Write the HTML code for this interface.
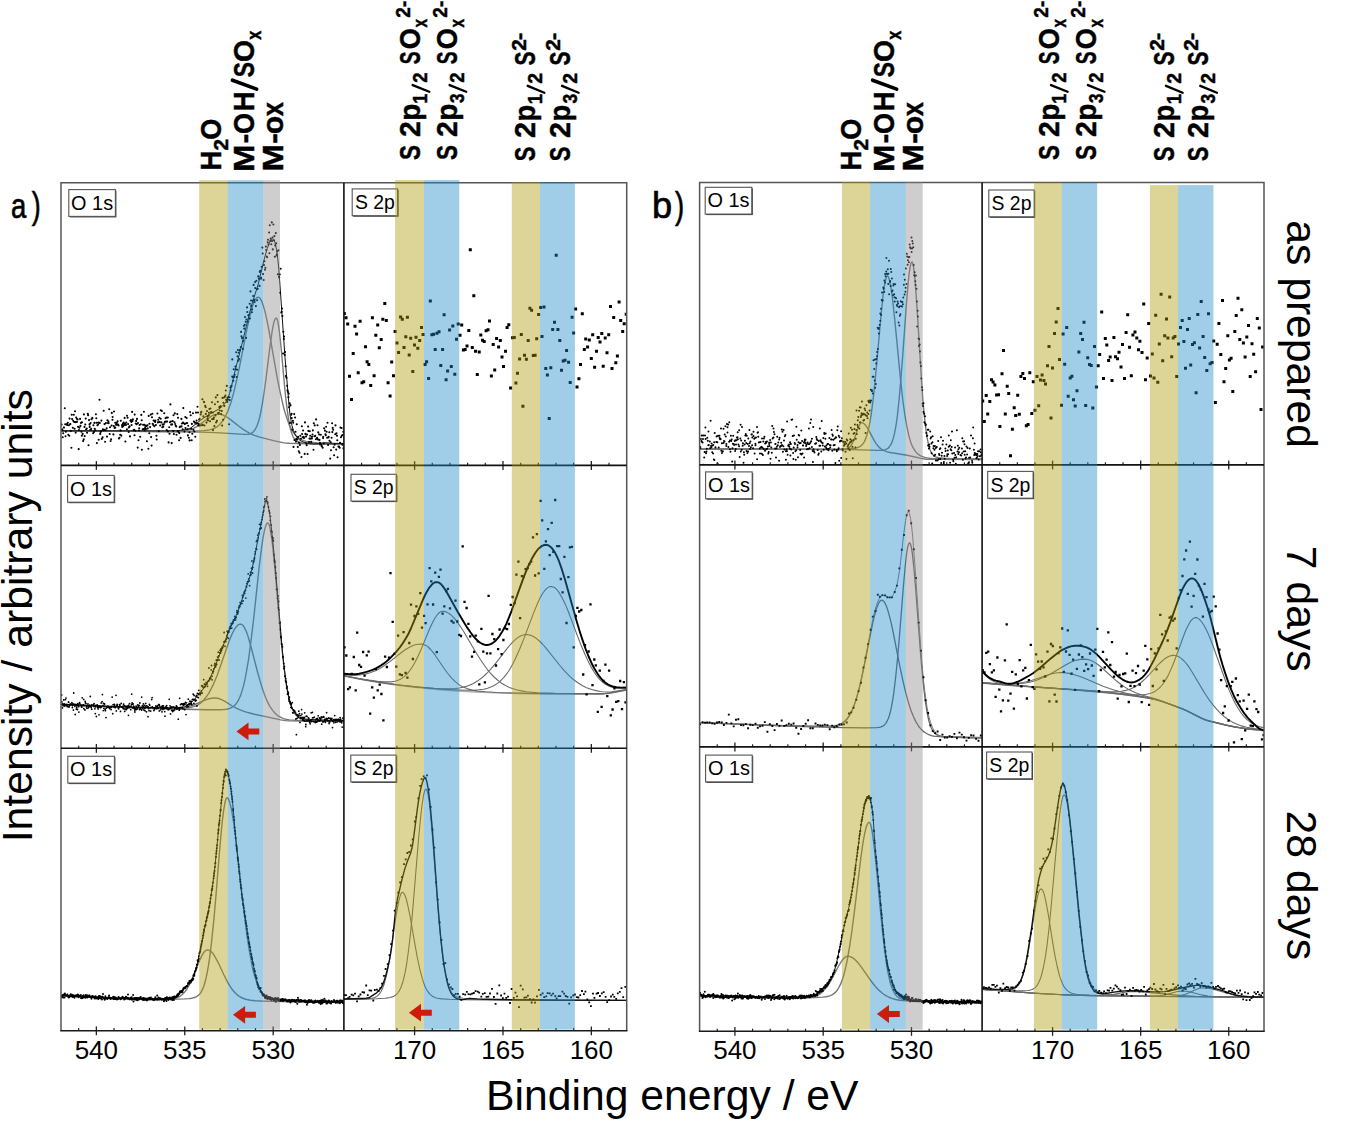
<!DOCTYPE html><html><head><meta charset="utf-8"><style>html,body{margin:0;padding:0;background:#fff;overflow:hidden}svg{display:block}</style></head><body><svg width="1350" height="1121" viewBox="0 0 1350 1121">
<style>.r{font-family:"Liberation Sans",sans-serif;fill:#000}.b{font-family:"Liberation Sans",sans-serif;font-weight:bold;fill:#000;stroke:#000;stroke-width:0.45px}</style>
<rect width="1350" height="1121" fill="#fff"/>
<clipPath id="c_aO1"><rect x="61.0" y="182.8" width="282.9" height="282.6"/></clipPath>
<g clip-path="url(#c_aO1)">
<path d="M61 431l46.2 .1 61.6 .5 8-.1 5.7-.4 3.3-.5 3-.7 2.7-.8 2.7-1.2 2.6-1.3 2.7-1.7 8.7-6.6 3.3-2.1 2-1 1.7-.7 1.8-.3 1.5-.1 2 .3 2 .5 2 .9 2.3 1.2 3.7 2.6 8.5 6.7 3.8 2.8 4 2.6 4 2.1 3.7 1.6 4.3 1.5 15.7 4 8.3 1.7 3.2 .5 3.2 .2 26.8 .7 28 .3" fill="none" stroke="#777" stroke-width="1.4" stroke-linejoin="round"/>
<path d="M61 430.9l41 0 70.5 .3 23.3-.2 8-.4 3-.3 2.4-.4 2.3-.5 2-.7 1.7-.9 1.8-1 2-1.6 2-2.1 1.8-2.3 1.7-2.8 1.7-3.4 1.6-3.4 1.4-3.9 1.6-4.4 3-10.5 3.2-13.7 3-14.4 7-35.6 1.8-8.1 1.7-7.3 2-7 1-2.8 1-2.3 1-1.9 1-1.2 1-.7 .7-.1 .8 .2 .8 .6 .7 .9 1 1.8 1.5 3.9 1.8 6 1.7 7.5 2 9.9 8.7 49.5 2.3 11.6 2.3 10.5 2.4 10.1 2.6 8.3 2.4 6.6 1.3 2.7 1.5 2.8 1.2 2 1.6 2 1.4 1.7 1.8 1.6 1.8 1.3 2 1.1 2 .8 2.2 .7 5 .9 7 .6 11.2 .5 14.8 .3" fill="none" stroke="#777" stroke-width="1.4" stroke-linejoin="round"/>
<path d="M61 431l66.5 .2 74 .9 14 .5 29.5 1.8 3.5-.2 1.5-.4 1.2-.5 1.6-1 1.2-1.3 1.2-1.7 1-1.8 1.3-3 1-3 1-3.5 1-4.3 1.7-9 2-12.9 1.8-13.2 4-32.5 2-14 1.2-6.8 1-4 1-2.4 .6-.6 .4-.1 .6 .3 .2 .5 .8 2.4 .7 3.9 1 7.3 1.5 14.1 4.2 46 1.3 11.6 1.3 9.8 1.2 7.9 1.2 6.2 1.6 5.3 1.4 3.6 1.6 2.3 .7 .8 1 .8 1 .5 1.3 .5 3 .7 6 .5 9.7 .5 12.3 .3 14.2 .1" fill="none" stroke="#777" stroke-width="1.4" stroke-linejoin="round"/>
<path d="M61 430.8l103.8 .1 11.4-.2 4-.3 3.3-.4 3.5-.7 3-.8 10.5-8.2 3.5-2.5 5.2-3.4 9-5 1.8-1.2 2-1.7 2.5-2.6 2.3-3.3 1.2-2.5 1.5-4.4 2-7.6 4-17.1 6.3-24.2 7-29 3.4-12.6 5.8-18.2 6.5-27 2.7-9.3 2-5.4 1-2.1 .8-1.2 .8-.7 .7-.3 .7 .3 .8 1 .8 1.7 .4 1.6 1.3 5.9 1.3 9.4 1 10.5 1.2 15.9 5 72 4 47.7 1 9.5 .8 5 1.2 6.1 1.5 5.2 1 2.5 1 1.9 1.3 1.9 1.7 1.9 1.5 1.3 1.8 1 2 .9 2.4 .8 3.6 .7 4 .3 4.2-.2 5.8-1 9.7 .5 10.5 .2" fill="none" stroke="#111" stroke-width="1.0" stroke-linejoin="round"/>
<path d="M61.6 424.5h0m.5 4.7h0m.4 1h0m.2 7.1h0m.5-4h0m.7-5.7h0m.1-.1h0m.8-19.3h0m.4 16h0m.3 12h0m.4-4.5h0m.5-7.3h0m.4-.1h0m.5 .7h0m.5-2.3h0m.5 12.1h0m.6-9.6h0m.4 10.5h0m.3-17.1h0m.6 5.5h0m.2-.1h0m.4 6.9h0m.6 16.8h0m.3-32.9h0m.4 4.2h0m.7 8.7h0m.4-6.9h0m.6-6.1h0m.4 7.3h0m.4 6.8h0m.4-17.5h0m.3 10.8h0m.4 10.5h0m.5-15.1h0m.7 4.4h0m.2-2.9h0m.5 .4h0m.4 7.4h0m.7 22.3h0m.2-19h0m.5-2.4h0m.7-8.8h0m.3 7h0m.6-3h0m.4 8.9h0m.4 3.9h0m.2-13.4h0m.7 11.6h0m.4 7.2h0m.6-1.7h0m.2-25h0m.6 12.5h0m.2 9.2h0m.6-11.6h0m.4-5.9h0m.4 10.7h0m.7-.7h0m.3 4.2h0m.7-18.9h0m.3 1.4h0m.4 29.9h0m.5-25.1h0m.5 4.3h0m.2 2.5h0m.6 2.8h0m.3-6.6h0m.6 5.8h0m.3-9.7h0m.8-1.4h0m.1 .4h0m.7 15.1h0m.3-8.1h0m.6 6.9h0m.4-9.2h0m.3 5.8h0m.7 1.6h0m.5-16.1h0m.4 4h0m.3 4.6h0m.3 20.3h0m.5-17.9h0m.7-.6h0m.3-2.1h0m.3 17.3h0m.8-40h0m.3 23.1h0m.4 11h0m.4-1.9h0m.5-.6h0m.3-10.8h0m.4 18.3h0m.8-1.5h0m.3-8h0m.5 .8h0m.3-19.5h0m.7 19.2h0m.1-5.8h0m.6 17.6h0m.3-11.5h0m.5-7.1h0m.8 5.3h0m.3 8.2h0m.4-16.3h0m.5 2.8h0m.5-1.9h0m.3 1.9h0m.5-13.8h0m.5 24.7h0m.3-6.8h0m.6 13.8h0m.5-1.7h0m.5-13.7h0m.2-12.7h0m.7 6.8h0m.1-2.7h0m.8 17.4h0m.4-8.4h0m.2-14.5h0m.6 16.4h0m.6-5.1h0m.1 4.8h0m.7-2.9h0m.5-1.4h0m.4 1.5h0m.5-3.1h0m.2-.5h0m.5 3.4h0m.5 .9h0m.4 12.9h0m.5-.6h0m.7-3h0m.3-4.4h0m.3-9.6h0m.5 14.8h0m.7-10.5h0m.2 1.8h0m.7-3.4h0m.3 2.7h0m.4-3.7h0m.6 2.4h0m.4-7h0m.4 5.9h0m.4 17.7h0m.6-16.5h0m.3-2.5h0m.6 6.8h0m.1-13.6h0m.6 2h0m.5 6.4h0m.6 7.9h0m.2-4.6h0m.7-1h0m.4 10h0m.4-15.6h0m.5-.8h0m.5 1.9h0m.2 3.1h0m.5-13.1h0m.4 9h0m.4-1.6h0m.5 10.9h0m.7-.4h0m.4 5.5h0m.2-20.7h0m.6 16.2h0m.4-7.3h0m.5-2.6h0m.5 3.4h0m.3-5.4h0m.7 28.7h0m.3-24.6h0m.5 17.2h0m.5-9.7h0m.2-2.3h0m.4-3.2h0m.6 11.7h0m.6-12.5h0m.5-9.3h0m.4 5.4h0m.2 29.4h0m.8-20.5h0m.4-4.5h0m.5 4.3h0m.3-17.2h0m.6 18.7h0m.1-5.7h0m.4 3.3h0m.5-1.7h0m.5 2.6h0m.4-3.1h0m.5 15.3h0m.6-15.8h0m.2 3h0m.7 20.3h0m.3-32.8h0m.6 17.4h0m.2-9.5h0m.6 3.3h0m.7-12.5h0m.3 22.5h0m.5 8.5h0m.4-28.4h0m.4-3.5h0m.3 10h0m.6 1.3h0m.3-4.4h0m.7 5.7h0m.5-5.1h0m.4 .8h0m.2-1.4h0m.5 4.4h0m.5 10.8h0m.3 3.7h0m.7-26h0m.5 8.9h0m.3-2.6h0m.6 11.4h0m.5-13.5h0m.2 4.2h0m.7 3.6h0m.5-6.7h0m.1-8.5h0m.6 12.1h0m.5-11.4h0m.4 16.2h0m.3-2.6h0m.7 2.1h0m.4-2.3h0m.5-11.1h0m.5 9.2h0m.2-.6h0m.6-3.7h0m.5 3.3h0m.5-4h0m.2 12.6h0m.4-8.5h0m.7-4.1h0m.2 14h0m.6 10.9h0m.6-15.2h0m.3 6.6h0m.4-11.5h0m.5-17.9h0m.5 17.1h0m.2 3.1h0m.6 18.5h0m.4-18.7h0m.6-3.3h0m.5 10h0m.3-15.9h0m.4 18.9h0m.6-11.9h0m.3-8.8h0m.4 10.6h0m.5 1.7h0m.5 .7h0m.3 8.4h0m.8-20.7h0m.3 17.1h0m.4-13.4h0m.3 13.8h0m.8 8.6h0m.2-7.1h0m.4-5.9h0m.5-.7h0m.4 11.4h0m.8-19h0m.2 7.5h0m.4-2.9h0m.7 5.8h0m.3-6.8h0m.3-14.4h0m.6 15.1h0m.6 8.4h0m.3-7.5h0m.5-7.1h0m.2 11.1h0m.7-4.9h0m.5-5.2h0m.5 5h0m.4 6.3h0m.3 6.1h0m.3-9.6h0m.7 12h0m.5-5.6h0m.2 8.2h0m.5-28.3h0m.6 3.1h0m.5 13.5h0m.5 11.6h0m.2-16.4h0m.4 9.8h0m.7-20.4h0m.4 16.4h0m.5-8.1h0m.5 9.9h0m.5-8.8h0m.4 14.1h0m.4-14h0m.3-10.2h0m.6 8h0m.2 3h0m.7-16.8h0m.5 5.7h0m.4 13h0m.3-1.6h0m.5-4.2h0m.4-.8h0m.3 6.6h0m.8-11h0m.3-1.9h0m.4-.8h0m.5 13.5h0m.5-26.1h0m.4 25.6h0m.6-8.4h0m.5-14.7h0m.2 .6h0m.4 23.2h0m.7-19.6h0m.5 1.3h0m.1 6.7h0m.7 8.7h0m.5-11.6h0m.5 5.6h0m.1 2.1h0m.4 1.7h0m.8-4.9h0m.1-2.8h0m.5-3.7h0m.6 12.3h0m.4-12.8h0m.6 3.6h0m.2 .2h0m.8-10h0m.1 16.8h0m.7-6.6h0m.2 17.6h0m.6-11.1h0m.3-1.4h0m.5 8.5h0m.5-21.9h0m.6 11.2h0m.3-18h0m.3 25h0m.8-1.5h0m.5-25.8h0m.4 6.6h0m.2 11.3h0m.5 .6h0m.4-.6h0m.4-5.9h0m.4 3.4h0m.7-3.6h0m.2-.8h0m.5 8h0m.7-3.1h0m.3 14.6h0m.4-27.7h0m.6 21.8h0m.3-17h0m.6-5.2h0m.3 8.4h0m.6-9.2h0m.5-1.1h0m.4-5.1h0m.4 9.4h0m.6-14h0m.4 16h0m.2-4.1h0m.5 1.8h0m.4-2.6h0m.8 27.3h0m.4-27.1h0m.2 2.9h0m.7-12.5h0m.2 2.9h0m.6-4.4h0m.4-.1h0m.6-9.4h0m.1-17.2h0m.6 17.8h0m.5 3.6h0m.3-11.6h0m.5 7.7h0m.5-2.1h0m.7-8.2h0m.4 2.6h0m.4-16.9h0m.5 24.7h0m.4-7.3h0m.5-13.3h0m.4-6.4h0m.4 10.8h0m.3-8.1h0m.4 6.3h0m.7-8.5h0m.2-.6h0m.8-2.8h0m.3-15.2h0m.3 4.4h0m.7 1.9h0m.2-.5h0m.6 11.2h0m.2-7.9h0m.8-15.2h0m.3 2.8h0m.6-3.8h0m.2-7.8h0m.7 4.7h0m.4 16.2h0m.4-18.4h0m.6-12.1h0m.2 4.6h0m.5 9.8h0m.5-6.5h0m.5-.2h0m.3 3.4h0m.6-14.8h0m.2 14.8h0m.6-27.1h0m.6 9.1h0m.1 5.4h0m.7 6.3h0m.2-2.7h0m.8-8.8h0m.3-4.7h0m.4-11.1h0m.6 14.8h0m.4 2.3h0m.5-20h0m.2 6.1h0m.6 18h0m.5-25.4h0m.6 8.6h0m.1 11h0m.6-11.6h0m.5-12.3h0m.4 .1h0m.3 2.2h0m.6 7.2h0m.3-14h0m.5-1h0m.7 7.9h0m.2-.9h0m.5-11.1h0m.6-19.2h0m.4 5.9h0m.4 20.6h0m.6 5.9h0m.3-14.9h0m.5-3.9h0m.5 8.6h0m.4-2h0m.5-21.2h0m.3 3.4h0m.5 6.5h0m.4 .8h0m.6-15.1h0m.3-2.4h0m.5 4.6h0m.6-11.9h0m.3 20.7h0m.4-28h0m.6 15.7h0m.3-2.3h0m.6 5.7h0m.5-21.9h0m.3 18.6h0m.5-3.5h0m.2 11.9h0m.6-24.9h0m.6 15.8h0m.4-4.2h0m.4 20.7h0m.5-11.4h0m.5-12.3h0m.4 10.2h0m.4 12.1h0m.3-.8h0m.5-3.3h0m.5 23h0m.5-24h0m.6 26.5h0m.2 .6h0m.5-3h0m.4 18.4h0m.6-24h0m.6 43.7h0m.4-.8h0m.3-3.2h0m.4 7.5h0m.7 37.5h0m.2-21.7h0m.6 7.2h0m.2-2.5h0m.7 18.4h0m.3-2.9h0m.5 14.3h0m.3 9.8h0m.6 1.6h0m.6 8.1h0m.4 4.4h0m.3 1.6h0m.6 5.4h0m.3-3.7h0m.4 13.8h0m.6-3.9h0m.3 19.5h0m.5-17.5h0m.6 9.4h0m.5-1h0m.1 4.3h0m.7 11.6h0m.5-8.8h0m.3 1.9h0m.3 24.1h0m.7-32.8h0m.3 25.9h0m.6-22.5h0m.4 14.3h0m.5 9.8h0m.3-2.7h0m.5-14.6h0m.5 15.1h0m.5 7.5h0m.3-10h0m.7 14.3h0m.2-8.5h0m.5 10.1h0m.4-7.9h0m.4-9.1h0m.6 3h0m.6 18.2h0m.4-30.7h0m.2 7.7h0m.5 3.3h0m.5-6.8h0m.6 6.4h0m.3 1.2h0m.7 15.8h0m.3-31.5h0m.4 11.5h0m.6 2.7h0m.4 7h0m.3 1.6h0m.4-10.6h0m.5 19.4h0m.5-27.4h0m.3 4.3h0m.6 11.1h0m.5-3.4h0m.3-7.4h0m.4 4.5h0m.5 2.9h0m.5 3.3h0m.7-3.4h0m.1-1.8h0m.5-2.2h0m.4-4.1h0m.6 19.4h0m.3-26.6h0m.6 13h0m.3-10.8h0m.5 10.5h0m.7 3.3h0m.2-19.8h0m.6 19h0m.4-.5h0m.4-12.6h0m.6 14.3h0m.2-7.2h0m.8 2.1h0m.4 5.4h0m.4 2.8h0m.2 1.8h0m.7-9.8h0m.4 9.9h0m.5 1.7h0m.2-.3h0m.8 1.7h0m.4-9.6h0m.1-1.4h0m.6 6.9h0m.3-15.3h0m.8 2.3h0m.5 3.6h0m.4 1.1h0m.3-8.5h0m.5 4.9h0m.5 6.1h0m.4-15.1h0m.6 22.2h0m.3-7.5h0m.3-.7h0m.6-4.5h0m.2 8.6h0m.7 17.8h0m.5-16.3h0m.3 8h0m.6-12.5h0m.5-14.5h0m.2 8.8h0m.4-4.2h0m.5 1.8h0m.4 17.6h0m.5 8h0m.5-10.6h0m.7-10.5h0m.2-8.8h0m.7 24.2h0m.3-16.2h0m.5 2.4h0m.3 4.4h0m.3 17h0m.8-10.7h0m.2 .2h0m.4-.2h0m.7 1.3h0m.4-4.9h0m.3-15.4h0m.5 9.8h0m.7-9.3h0m.2 7.6h0m.6 9.1h0m.2-9.7h0m.7-3.2h0m.2 16.6h0" fill="none" stroke="#000" stroke-width="2.1" stroke-linecap="round"/>
</g>
<clipPath id="c_aS1"><rect x="343.9" y="182.8" width="282.8" height="282.6"/></clipPath>
<g clip-path="url(#c_aS1)">
<path d="M344.3 313.5h0m1.7 4.2h0m1.7 6.3h0m1.8 52.2h0m2 23.4h0m1.7-46h0m1.8-27.3h0m1.6 7.6h0m1.6 38.8h0m1.9-51.4h0m1.9 61.5h0m1.7-1h0m1.8-35h0m1.6 15h0m1.7 2.7h0m1.9 20.9h0m1.7-67.7h0m1.7 58h0m1.7-40.5h0m1.9-10.2h0m1.6 22.7h0m1.9-8.3h0m1.6-20.1h0m2-15.8h0m1.5 17h0m1.8 62.3h0m2 13.2h0m1.6-34.1h0m1.8 13.9h0m1.6-44.2h0m1.9 11.4h0m1.6 9.4h0m2-35.5h0m1.7 2.4h0m1.7 28.2h0m1.8-10.8h0m1.6-19.4h0m1.8 37.7h0m1.5-16.8h0m2.1 33.4h0m1.7-26.7h0m1.5-7.7h0m1.8 11.1h0m1.9-7.8h0m1.8-12.9h0m1.5 6.9h0m2.1 30h0m1.5-2.7h0m2 16.6h0m1.7-77.4h0m1.6 33.8h0m1.7-.6h0m1.6 15.3h0m1.8-16.3h0m2-1.5h0m1.8 33.7h0m1.8-15.8h0m1.5-34.9h0m2 65h0m1.5-8.8h0m2-40.8h0m1.7 36.5h0m1.5-40.7h0m2 48.4h0m1.7-35h0m1.7-15.2h0m1.8 11.2h0m1.7-10.2h0m1.7 24.9h0m1.7-.4h0m1.9-3.7h0m1.8-15.4h0m1.5-80.7h0m2 97.6h0m1.5-51.7h0m1.7 55.6h0m1.8 23.1h0m1.9-22.3h0m1.6-17.2h0m1.7 5.4h0m1.7 1.2h0m1.9-10.8h0m1.9-.9h0m1.5-8.8h0m1.9 54.9h0m1.8-31.3h0m1.5 25.3h0m1.9-31.4h0m2 8.4h0m1.7-6.3h0m1.7 16.4h0m1.5 9.5h0m2-15.3h0m1.6-23.7h0m1.7-2.8h0m1.8 63.4h0m2-50.4h0m1.7-.3h0m1.6 45.7h0m1.6-9.8h0m2.1-14.4h0m1.7-24.3h0m1.6 71.6h0m1.6-51h0m1.9 4h0m1.8-18.6h0m1.7-32.4h0m1.7 2.1h0m1.7 45.3h0m1.8-.4h0m1.6-16.4h0m1.9-24.3h0m2-7h0m1.4 29h0m2-29.4h0m1.8 61.3h0m1.6 6.6h0m1.8 43.6h0m1.6-50.8h0m1.9-38.2h0m1.8-7.3h0m1.7-67h0m1.7 74.2h0m1.9 10.9h0m1.7 29.8h0m1.7-9.3h0m1.8-.6h0m1.6-9.7h0m2 11.6h0m1.6 20.4h0m1.9-65.3h0m1.5 15.8h0m2-24.2h0m1.4 78.2h0m1.9-8.4h0m1.6-14.1h0m1.8-50.8h0m2 35.7h0m1.4-10.6h0m1.9 8.2h0m1.7-7h0m2 18.4h0m1.4-23.8h0m1.9 32.5h0m1.9-15.9h0m1.7-13.9h0m1.8 4.7h0m1.8-8.6h0m1.4 32.7h0m2-28.3h0m1.8 14.8h0m1.7-17.9h0m1.8-28.4h0m1.5 62.2h0m1.7-51.1h0m2.1 45.2h0m1.6-6.8h0m1.7-54h0m1.6 18.5h0m2 11.2h0m1.5-7.9h0m2-9.4h0" fill="none" stroke="#000" stroke-width="3.0" stroke-linecap="square"/>
</g>
<clipPath id="c_aO2"><rect x="61.0" y="465.4" width="282.9" height="282.9"/></clipPath>
<g clip-path="url(#c_aO2)">
<path d="M61 704.6l91.8 3.9 13.4 .4 8.3-.1 3.5-.3 3.2-.3 3-.5 3-.7 3-.9 3.3-1.1 10.3-4.4 4-1.5 2.2-.6 2-.3 2-.2 1.8 0 1.4 .2 1.6 .3 3.2 1.3 3 1.6 7.2 4.6 3.6 1.9 3.7 1.8 4.5 1.7 4.8 1.4 5.4 1.4 11.6 2.4 15 3.3 4.7 .7 4.3 .3 26 .4 28.2 .1" fill="none" stroke="#777" stroke-width="1.4" stroke-linejoin="round"/>
<path d="M61 704.5l71 2.9 25.5 .9 15.7 .3 8 0 5.8-.5 4.8-.9 2-.6 2-.8 2-1 2-1.2 2-1.6 1.7-1.7 1.7-2 1.8-2.4 1.8-2.6 1.4-2.6 3.3-6.6 3.5-8.4 3.2-8.9 7.8-22.5 2.2-6 2-4.6 2.3-4.4 1.3-1.9 1-1.2 1-1 1-.6 1-.4 1-.1 .7 .2 .7 .5 .8 .7 1 1.4 1.8 3.4 2 5.3 1.4 4.9 1.8 6.2 6 23.3 2.8 10.1 2.7 9 2.5 6.9 2.5 5.9 2.5 4.7 2.8 4 2.7 3.1 1.5 1.3 1.5 1.1 3.3 1.8 1.7 .7 2 .6 4 .7 7.3 .5 12 .3 16.2 .3 19 .2" fill="none" stroke="#777" stroke-width="1.4" stroke-linejoin="round"/>
<path d="M61 704.5l52 2.2 44.2 1.7 26.8 .9 24 .5 11.8-.1 3.7-.2 2.7-.3 2.6-.5 2-.7 1.7-1 1.7-1.3 1.8-1.8 1.8-2.5 1.4-2.9 1.6-3.6 1.4-4.5 1.3-4.5 1.5-6.5 1.2-6.3 2.6-15.3 2.4-18.7 2.6-21.5 5.4-51 2.8-22.1 1.5-9.4 1.5-7 .8-2.4 .7-1.7 .7-.9 .6-.1 .4 .2 .3 .3 .5 1 .5 1.5 .7 3.2 1.3 7.6 1.3 10.1 2.2 22.8 6.2 71.9 1.8 17.2 1.8 14.7 1.4 10.6 1.8 9.9 1.8 7.5 1 3.5 1 2.8 1 2.4 1 1.9 1.2 1.9 1.2 1.4 1.3 1.1 1.5 1 1.5 .7 2 .6 2.3 .5 2.7 .3 8 .6 12.5 .5 16 .3" fill="none" stroke="#777" stroke-width="1.4" stroke-linejoin="round"/>
<path d="M61 704.4l44.5 1.8 34.7 1.2 22.3 .5 6.5-.1 5-.3 2.5 .3 2.3 .1 2-.2 2-.4 1.7-.5 1.5-.6 1.8-1 1.7-1.2 1.7-1.5 2-1.8 4.6-5 6.2-7.8 3-4.4 2.8-5 2.4-5.4 2.8-6.6 12.8-32.7 3.2-7.4 5.8-12.3 2.4-6.3 9.3-26.9 1.7-5.6 1.6-5.6 2.2-9.9 5.8-30 2.7-12.6 2-11.6 .7-3.1 .6-1 .2-.1 .5 .2 .7 1.2 .8 2.2 .5 2.2 .7 4.1 .8 5.2 1.5 12.6 2 19.3 2 21.4 6.3 74.5 1.2 12.7 1.5 13.3 1.5 11.3 1.8 10.5 1.4 7 1.8 5.9 1 2.6 1.2 2.5 1.3 2 1.3 1.6 1.7 1.8 1.7 1.4 1.8 1 1.8 .7 3 .6 3.7 .4 4 0 15.3 .8 15.2 .3" fill="none" stroke="#111" stroke-width="1.0" stroke-linejoin="round"/>
<path d="M61.6 694.9h0m.3 7h0m.5 6h0m.4-3.9h0m.3 1.8h0m.6-5.9h0m.4 4.9h0m.3-.9h0m.3 2.2h0m.4-1.4h0m.3-5.1h0m.6-1.5h0m.5 6.2h0m.1 1.4h0m.6 .8h0m.4 .1h0m.1-2h0m.8-2.4h0m.2 0h0m.3 4.9h0m.3-1.1h0m.7-1.1h0m.2-.9h0m.5 .8h0m.3 0h0m.5-.6h0m.4-1.6h0m.5 4.9h0m.4-2.2h0m.4-1.5h0m.2 6.3h0m.3-17.1h0m.8 11.3h0m.4 2h0m.3 8.2h0m.5-9.4h0m.3-.6h0m.3 4.6h0m.4-1.7h0m.3-1.7h0m.5 3.8h0m.3-5.8h0m.5 1.2h0m.4 1.8h0m.2 5.4h0m.6-9.4h0m.3 .8h0m.6 1.9h0m.4 0h0m.3-.3h0m.5 1.9h0m.3 0h0m.3-9.2h0m.5 7.5h0m.5-.4h0m.5-5.5h0m.1 9.2h0m.3-3.1h0m.8 4.4h0m.3-8.5h0m.3 1.5h0m.5 .7h0m.3 3.2h0m.6-.5h0m.1 2h0m.5-2.7h0m.5-1.7h0m.2 4h0m.6-.6h0m.2-.7h0m.6-1.4h0m.4 .6h0m.3-9.3h0m.6 10h0m.3 1h0m.4-2.7h0m.1 4.4h0m.4-4.1h0m.7 .2h0m.5 0h0m.3-.9h0m.5 2.1h0m0-2.8h0m.8 5.1h0m.4 4.8h0m.3-6.8h0m.3-1.4h0m.5 11.1h0m.2-10.8h0m.6-.7h0m.4 2.6h0m.3-1.8h0m.3 3.1h0m.3-1.7h0m.5 7.6h0m.6-8.4h0m.2-.1h0m.3 .9h0m.5 .5h0m.5-4.6h0m.4 3.8h0m.6-5.2h0m.3-7.1h0m.5 11h0m.4 5h0m.2-7.1h0m.3 4.8h0m.7-2h0m.1-2.3h0m.5 5.5h0m.3 1.2h0m.6 6.9h0m.2-9.5h0m.5-.5h0m.3-.6h0m.6 .1h0m.3-.9h0m.5 .7h0m.2 .5h0m.4-.5h0m.6 1.7h0m.4-.6h0m.4-.8h0m.5-.2h0m.2 2.6h0m.3-2.3h0m.5-1h0m.3-9.2h0m.5 16.6h0m.4-9.1h0m.4 2.1h0m.6 .3h0m.3-2.6h0m.3 1h0m.5 2.3h0m.4-.8h0m.4-11.6h0m.3 15.6h0m.6-5.5h0m.2-1h0m.2 .3h0m.5 1.9h0m.6 1.8h0m.3 .4h0m.4-1.7h0m.4-2.5h0m.3 .9h0m.3-.4h0m.4 6.3h0m.7-8h0m.2 3.6h0m.5 0h0m.6-.5h0m.3 1.1h0m.4 .9h0m.4-4.3h0m.5 1.5h0m0 3.2h0m.6 2.5h0m.6-5.3h0m.2 3h0m.6-2.8h0m.1 3.4h0m.3-1.9h0m.8-1.6h0m.2 2.2h0m.4-1.2h0m.6 8.1h0m.1-9.8h0m.7 2h0m.2-3.8h0m.3 3.2h0m.4-.6h0m.5 3.4h0m.4-3.4h0m.6-1.8h0m0-10.4h0m.4 8.7h0m.5 5h0m.5-3.8h0m.5 2.1h0m.3 2.2h0m.4-1.1h0m.5 2.8h0m.1 2h0m.5-3.5h0m.7-2.4h0m.1 3.5h0m.7-2.5h0m.2 2h0m.3-.8h0m.3-3.5h0m.5 .5h0m.4 .9h0m.5-.7h0m.4 4h0m.4-6.5h0m.4 4.9h0m.2 1h0m.5-1.7h0m.7-10.1h0m0 12.9h0m.7-4.3h0m.3 2.6h0m.5-1.6h0m.2-2.9h0m.4 6h0m.5-4.3h0m.6 2.7h0m.1 2.5h0m.3-4.6h0m.4-2.7h0m.8 8.4h0m.1-6h0m.3 .1h0m.6 1.3h0m.5 9.5h0m.3-9.9h0m.3 1.8h0m.5 2.1h0m.3-6.3h0m.3 .8h0m.8 2.5h0m.2 3.4h0m.3-3.8h0m.7-7.7h0m.4-2h0m.3 9.3h0m.2 .6h0m.4 .2h0m.5 .2h0m.4 2.6h0m.6-1h0m.4-1.8h0m.4 .4h0m.1-.4h0m.5-1.7h0m.2 .3h0m.6 2.2h0m.2-.4h0m.4-1.6h0m.4-.6h0m.5 2.3h0m.4-3.6h0m.6 .1h0m.1 6.2h0m.4-4.8h0m.7 1.5h0m.4 2.2h0m.4-1.8h0m.4-1.2h0m.4 5h0m.3-5.9h0m.5 1.8h0m.1 1.7h0m.5-3.5h0m.6 1.8h0m.2 .9h0m.5 3h0m.3 4.6h0m.5-8.4h0m.5-1.3h0m.4 1.5h0m.3-2.3h0m.3 2.9h0m.6-.6h0m.4 .6h0m.3 1.2h0m.5-.2h0m.4-10.3h0m.5 9h0m.3-2.5h0m.5 8.1h0m.2-5.8h0m.5-1.1h0m.4 .9h0m.1 2.5h0m.6 0h0m.4 1.1h0m.2-4.6h0m.7 3.8h0m.4-3.6h0m.5 2.8h0m.1-1.5h0m.5-.6h0m.6-.5h0m.2 .7h0m.5-2h0m.3 3h0m.3-2.4h0m.4 2.2h0m.4-.3h0m.5 10.7h0m.3-11.2h0m.6 2.2h0m.5-11.9h0m0 10.6h0m.4-1.5h0m.4-2.8h0m.8 3.2h0m0-3.9h0m.7 0h0m.2 3.2h0m.4-2.4h0m.4 4.1h0m.6-5.2h0m.1 1.7h0m.7-1.5h0m.3 5.9h0m.3-5.4h0m.4-1.8h0m.6 12.1h0m.4-11.8h0m.2 2.5h0m.4 1.5h0m.5-1.8h0m.6 1.7h0m.2-7.5h0m.5 5.3h0m.4-1h0m.3 1.1h0m.4-3.4h0m.5 2.7h0m.3-.5h0m.5-1.9h0m.2 1.9h0m.4 1.3h0m.6-5.3h0m.3 .2h0m.5-5.4h0m.5 5.3h0m.2 4h0m.2-8h0m.7 4.2h0m.4 .2h0m.2 1.1h0m.6-4.5h0m.3 3.8h0m.2-4.9h0m.4 10.6h0m.5-12.7h0m.5 4h0m.5 .4h0m.1-3.5h0m.4-3.8h0m.6 3.3h0m.4-.9h0m.4 1.9h0m.5-1.6h0m.5-2.3h0m.4-4.9h0m.3 7.3h0m.1-.2h0m.5-7h0m.5 1.4h0m.6-7.7h0m0 7.9h0m.6-3.5h0m.4 2.9h0m.4-2.4h0m.3 1.2h0m.4-1.3h0m.4-2.2h0m.3 1.1h0m.6 .5h0m.4 2.4h0m.5-5h0m.4-.4h0m.5-12.9h0m.1 12.6h0m.7-2.1h0m.2 .8h0m.5-1.3h0m.4 .2h0m.3-8.4h0m.4-4.3h0m.5 10.7h0m.1 3.6h0m.6-8.5h0m.2 1.8h0m.5-1.7h0m.5-2.5h0m.6-3.8h0m.4-1.6h0m.1 3.7h0m.4-.2h0m.5-1.3h0m.4-5.5h0m.4 4h0m.5-4.2h0m.4-2.9h0m.3 2.7h0m.4-7.6h0m.4 3.7h0m.5 4.2h0m.5-7.2h0m.4-2.7h0m.4 3h0m.3-1.6h0m.1-2.7h0m.6 1.6h0m.5-3.2h0m.2 1.2h0m.5-1.1h0m.2-.3h0m.5-1.7h0m.5-3.6h0m.2-9.3h0m.6 9.1h0m.3 4.7h0m.6-5.7h0m.2 1h0m.5-2.4h0m.5-3.8h0m.3-4.1h0m.2 6h0m.5-4.4h0m.5 5.4h0m.3-7.7h0m.4 1.3h0m.5-3.6h0m.4-.2h0m.3-1.7h0m.5 1.9h0m.5-5h0m.1 1.8h0m.5 3h0m.4-4.3h0m.7-.6h0m0-1.2h0m.5-1.9h0m.4 .3h0m.6-.5h0m.4-3.5h0m.1 2.2h0m.7 1.2h0m.4-2.1h0m.2-.5h0m.7-4.9h0m.1-1.7h0m.6 3.4h0m.1-1.1h0m.6-1.2h0m.4-4h0m.6-2h0m.3 1h0m.3-.5h0m.2-3.6h0m.6 1.5h0m.4-.3h0m.6-2.6h0m.3 2.1h0m.3-8h0m.3 2.2h0m.6 3.3h0m.1-5.3h0m.7-2.3h0m.4-1.4h0m.3 1.6h0m.5-3h0m.3-.3h0m.3 8h0m.5-11.7h0m.2 .6h0m.4-3.3h0m.6-2h0m.5 0h0m.2-7.8h0m.5 5h0m.6 2.2h0m.3 4.6h0m.5-10.4h0m.3-3h0m.3 .2h0m.4 2.2h0m.4-6.5h0m.4-7.3h0m.3 8.1h0m.4 4h0m.3-5.7h0m.5-4.7h0m.6-1.6h0m.3-2h0m.3-1.2h0m.6-4h0m.1-2.1h0m.8-3h0m.3-7.3h0m.3 7.9h0m.4-9.2h0m.5 .3h0m.1-5.3h0m.4 2.6h0m.6-4.6h0m.3 .4h0m.5-9.2h0m.4 4.4h0m.2 .4h0m.8-4.6h0m.3-2.1h0m.1 5.6h0m.7-8.4h0m.3-2.5h0m.5-2.3h0m.4-2.6h0m.5-1.3h0m0-3.7h0m.8-1.3h0m.2-6.9h0m.3 2.4h0m.4 .1h0m.4-.6h0m.7-2h0m.2 1.9h0m.2-3.9h0m.7 6.7h0m.3-1.5h0m.5 4.8h0m.1 .4h0m.7 3.7h0m.5 1.9h0m0-.1h0m.6 7.6h0m.2-4.1h0m.6 8.7h0m.2 6.1h0m.8 .7h0m.1 5.2h0m.6 3h0m.4-1.9h0m.2 2.8h0m.4 13.9h0m.7 5.3h0m0 .9h0m.5 .9h0m.4 5.1h0m.5 6.2h0m.3 4.8h0m.3 11.3h0m.6 .1h0m.5 9.1h0m.4-2.6h0m.3 11.9h0m.3-6.5h0m.3 8.4h0m.6 13.5h0m.5-.8h0m.3 6.9h0m.6 7.4h0m.1 .8h0m.6 6.4h0m.4 .8h0m.5 2.1h0m.4 10.5h0m.1-.8h0m.7 6.8h0m.2 5.2h0m.5-1.8h0m.5 9.5h0m.2 .3h0m.4 4.3h0m.2-2.2h0m.6 3.6h0m.3 5.9h0m.5-1.4h0m.4 7.5h0m.6-2h0m.3 1.4h0m.4 5.3h0m.2 2.1h0m.4-3.8h0m.7 6.2h0m0-1.5h0m.8 5.4h0m.2-2.8h0m.4-1.1h0m.4 4.8h0m.4-5.6h0m.4 10.2h0m.4 .1h0m.5-2.9h0m.2 .6h0m.4 0h0m.5 1.2h0m.2-.6h0m.6 1.6h0m.4 6.2h0m.5 15.7h0m.1-20.2h0m.6 3.8h0m.5-2.5h0m.2-.9h0m.6 2.4h0m.4-6.1h0m.1 4.3h0m.6-1.9h0m.5 8.8h0m.3-3.8h0m.5-2.9h0m.5 2.3h0m.3-8.4h0m.3 4.5h0m.5 5.1h0m.3 1h0m.2-2.7h0m.5 1.5h0m.5 1.6h0m.6-3.1h0m.2-4.7h0m.3 8.4h0m.7 5.5h0m.2-2.2h0m.3-8.3h0m.5 4.7h0m.3-4.5h0m.3 4.3h0m.7 .2h0m.4-3h0m.5 .4h0m.1 2.4h0m.7 1.7h0m.3-.3h0m.2 1.7h0m.5-3.6h0m.5-7.4h0m.2 8.7h0m.3-1.8h0m.7-7.3h0m.2 5.4h0m.5 3.6h0m.4-3.7h0m.6 4h0m.2-4.6h0m.4 4.6h0m.6 .9h0m.1-1.3h0m.6 0h0m.2-2.3h0m.6 3h0m.4-3.6h0m.4 1.6h0m.3 1h0m.3-5.2h0m.6 4.7h0m.5 .2h0m.1-2.7h0m.3 3h0m.5-2.4h0m.7-.4h0m0 1.9h0m.4-3.1h0m.4 7.2h0m.8-6.9h0m.2 4.4h0m.5 .2h0m.4-5.3h0m.3 .5h0m.5 4.1h0m.3-1.9h0m.4 1.6h0m.3 1.4h0m.3-2.7h0m.6-1.2h0m.3-5.7h0m.4 7.4h0m.7-1.4h0m.1 2.2h0m.3-.1h0m.7-2.9h0m.3 5.6h0m.2-1.2h0m.5-.4h0m.5-3.6h0m.3 1.4h0m.7-.2h0m.3 .2h0m.3-1.3h0m.6 2.9h0m0 6.3h0m.5-6.5h0m.7-1.5h0m.2 3.2h0m.3-1.9h0m.5-5.3h0m.5 3.8h0m.3 1h0m.2 1.9h0m.4-2.3h0m.6 .1h0m.2-.7h0m.4 2.4h0m.7-2h0m.3-.3h0m.2-.2h0m.8 2.3h0m.1-1.9h0m.7-2.1h0m.2 4.2h0m.4-2.4h0m.4 1.9h0m.5 0h0m.2 1.5h0m.4 4.3h0m.6-9h0m.2 2.3h0m.5-2h0" fill="none" stroke="#000" stroke-width="1.8" stroke-linecap="round"/>
</g>
<clipPath id="c_aS2"><rect x="343.9" y="465.4" width="282.8" height="282.9"/></clipPath>
<g clip-path="url(#c_aS2)">
<path d="M343.9 676l15 3 15.5 2.7 15.8 2.4 16 2.1 16.4 1.8 17.3 1.6 17.7 1.3 18.6 1.1 25 1 27.4 .6 30.6 .3 41.4 .1 4.3-.2 5-.6 17-3.2" fill="none" stroke="#b0b0b0" stroke-width="1.6" stroke-linejoin="round"/>
<path d="M343.9 674.5l4.3 .4 4 .3 3.7-.1 3.5-.2 3.5-.4 3.3-.6 3.2-.9 3.2-1.2 2.8-1.1 3-1.5 3-1.7 3-2 5.5-3.9 12.5-9.8 3.2-2.3 3-1.8 3.3-1.7 3.3-1.2 3.2-.6 3-.1 2.2 .3 2.3 1 2.3 1.6 2.4 2.5 2.3 2.7 2.3 3 8.4 12.6 3.8 5.2 3.8 4.6 3.7 3.8 3.7 3 2 1.3 2 1.1 4.3 1.8 5 1.5 6 1 7.5 .7 11 .7 15.2 .5 17.6 .4 19.4 .3 51.6 .2 4.4-.2 5-.6 17.3-3.2" fill="none" stroke="#6a6a6a" stroke-width="1.1" stroke-linejoin="round"/>
<path d="M343.9 675.6l12.5 2.4 12 2 9.2 1.3 7 .6 5.6 0 2.2-.3 2.2-.4 2-.5 2-.7 1.8-.8 1.8-1.1 1.7-1.2 1.5-1.3 1.8-1.8 1.4-1.7 3-4.1 3-5 2.8-5.4 2.8-6 8.2-19.8 2.5-5.8 2.3-4.7 2-3.6 2-2.9 2-2.1 1-.7 1-.5 1-.3 .7 0 1.5 .2 1.8 .5 1.4 .7 1.8 1.1 1.8 1.4 1.7 1.7 1.7 1.9 2 2.5 3 4.2 3.6 5.4 12 20.4 5 8 5 7.3 2.4 3.3 2.6 3 4.4 4.7 2.3 2 2.5 2.1 2.2 1.6 2.6 1.5 2.4 1.4 2.8 1.3 3.8 1.4 4 1.2 4.4 .9 4.8 .8 5.5 .5 6.3 .5 17 .6 24.2 .3 23.2 0 4-.3 4.3-.6 16-3" fill="none" stroke="#6a6a6a" stroke-width="1.1" stroke-linejoin="round"/>
<path d="M343.9 675.8l18.3 3.6 18.4 3 19 2.6 19 2.1 15.8 1.3 6.2 .3 5.6 .1 4.7 0 4.3-.3 4-.5 3.7-.7 2.7-.7 2.6-.8 4.7-2.1 4.5-2.6 4.5-3.3 4.7-4.3 4.8-5.2 4.8-5.7 11.4-14.8 3.3-3.8 3-3.1 3.5-3 1.8-1.2 1.4-.8 1.8-.7 1.5-.4 1.5-.2 1.5-.1 1.5 .2 1.5 .4 3 1.2 3.3 2 3.2 2.7 3 3 3.2 3.7 14.3 17.8 3.7 4.4 3.3 3.5 3.7 3.7 3.8 3.2 3.8 2.7 4 2.5 4.4 2.2 5 1.8 5.6 1.4 3.2 .6 2.2 .3 4.3 .2 4.7-.3 4.8-.7 10.5-1.7" fill="none" stroke="#6a6a6a" stroke-width="1.1" stroke-linejoin="round"/>
<path d="M343.9 675.8l11.3 2.2 11.2 2.1 11.5 1.9 11.5 1.7 11.8 1.5 12 1.4 12 1.2 12.2 1 11.2 .7 10.3 .5 8.3 .3 6.4-.1 5.3-.4 4.7-.6 4-1 3.8-1.4 2.8-1.3 2.4-1.6 2.6-1.8 2.2-2.1 2.2-2.4 2.3-2.7 2.3-3.2 2.2-3.5 2.2-4 2.3-4.4 4.5-10 4.5-11.2 10.3-27.2 3-7.2 2.4-5.4 3-5.3 1.6-2.2 1.4-1.8 1.6-1.4 1.4-1 1.6-.5 1.2-.1 1.2 .2 1.6 .7 1.2 .9 1.5 1.4 1.3 1.6 1.4 2.1 3 5.4 2.6 5.3 3 7.2 11.4 30.3 5.3 12.7 3 6.5 3 5.8 2.7 4.6 3 4.4 3 3.7 3 2.9 3.3 2.4 3.3 1.7 3.4 1.2 4 .6 4.6 .2 5.7-.2" fill="none" stroke="#6a6a6a" stroke-width="1.1" stroke-linejoin="round"/>
<path d="M343.9 673.8l6.3 .5 5.7 0 3.3-.6 3.7-.9 4.5-1.1 3-1 2.8-1 2.7-1.3 2.7-1.5 2.6-1.6 2.7-1.9 2.5-1.9 2.5-2.2 2.5-2.4 4.5-4.7 3.5-4.2 3.2-4.5 3-4.7 2.6-4.5 2.7-5.8 12-28.6 1.7-3.9 1.8-3.5 2.5-4.3 2.3-2.9 1.2-1.3 1-.8 1.2-.7 1-.3 1-.1 1 .1 1.8 .7 1.8 1.4 1.7 2.1 2.3 3.4 2.7 4.5 10.3 18.4 6 10.1 3.2 5.1 3 4.4 2.5 3.3 2.5 2.9 2.5 2.4 2.3 1.8 2.2 1.3 2 .7 2.2 .3 2-.2 2-.6 2-1.1 1.8-1.3 1.5-1.4 1.7-2 1.8-2.3 3.2-5.1 3.6-6.9 2.4-5.7 3-7.6 9.6-26.7 3.4-9.3 4-9.5 3.8-7.6 1.8-3 1.7-2.7 1.7-2.3 1.8-1.8 1.8-1.5 1.4-.8 1.8-.6 1.8-.2 1.7 .4 1.5 .8 1.8 1.4 1.4 1.7 1.6 2.2 1.7 3.1 1.5 3.1 1.8 4.2 2.4 6.9 3 9.6 12 42.7 3 10 2.8 8.7 3.2 9.3 3 7.6 3 6.7 3 5.8 3.3 5.3 1.7 2.4 1.8 2.2 1.5 1.6 1.7 1.6 1.8 1.3 1.8 1.1 1.7 .9 2 .8 2 .6 2.3 .5 4.7 .3 6-.1" fill="none" stroke="#000" stroke-width="1.9" stroke-linejoin="round"/>
<path d="M344.5 647.3h0m1.8 8.2h0m1.9 33.7h0m1.7-1.9h0m1.8-13.4h0m2.1-16.9h0m1.9 33.3h0m1.5-57.6h0m2 32.3h0m1.8 1.8h0m2.1-14.8h0m1.5 23.6h0m2.2-20.2h0m1.8-3.8h0m1.6 62.1h0m2-26.3h0m1.7 10.3h0m2-28.5h0m1.8 21.1h0m2-5.6h0m1.7 9.3h0m2 26.3h0m1.7-63.6h0m1.8 10.3h0m2.1-9.3h0m1.5-84.6h0m2.2 48.7h0m1.8 32.1h0m1.8 12.7h0m1.8-31h0m1.8 38.7h0m2 .9h0m1.7-43.1h0m2 40.9h0m1.8 4.6h0m1.9-34.6h0m1.7-38.3h0m1.9 54.3h0m1.6-43h0m1.9-9.6h0m1.8 7.4h0m2.1-20.7h0m1.7 34.5h0m2.1-11.8h0m1.5 7.4h0m1.9-18.8h0m2.1-36.3h0m1.7 13.2h0m1.8 23.2h0m2.1-31.9h0m1.6 79.6h0m2.1-75.4h0m1.6-7.2h0m2.1 44h0m1.7-7.2h0m2-15.4h0m1.6-2.2h0m2.1 19.5h0m1.6 12.7h0m1.9 1.7h0m2-22h0m1.8 20.8h0m1.9 13.3h0m1.8 1.2h0m1.7-89.6h0m1.8 55.5h0m2.1 6.1h0m1.8 15.8h0m1.8 12.5h0m1.8 20.3h0m2.1-4.8h0m1.6-16.1h0m2.1 5.7h0m1.5 42.9h0m2.1-55.5h0m1.9 22.9h0m1.6 30.7h0m2.1-29.1h0m1.6-57.5h0m1.8 57.5h0m2-19.3h0m1.9 5.2h0m1.7 26.3h0m2.1-16.4h0m1.5-19.6h0m2 24.7h0m1.8-14.2h0m1.9-11.6h0m1.8 .8h0m1.8-5.2h0m1.9-19.1h0m1.9-7.9h0m2 6.1h0m1.7-28.5h0m2-13h0m1.7 56.5h0m1.8-41.9h0m1.8 .4h0m1.9-7.4h0m2.1-1.2h0m1.7-3.8h0m1.8-2.6h0m1.8-24.3h0m2.1 38.2h0m1.8-41.4h0m1.8 39.3h0m1.9-72.6h0m1.6 19.5h0m2.1 48.5h0m1.6-27.5h0m2.1-12.2h0m1.7 26.1h0m2-32.3h0m1.6 29h0m1.9-51.9h0m2 46.2h0m2-.1h0m1.6 32.9h0m1.8 13.4h0m1.8-35.6h0m2.1 66.2h0m1.9-45.9h0m1.5-29.7h0m2-.6h0m1.8 100.5h0m2.1-31.3h0m1.6-8.2h0m1.8 3.7h0m2.1-1.5h0m1.9 64.5h0m1.8-29.4h0m1.6 49.2h0m2-42.8h0m1.9-47.2h0m2 80.8h0m1.8-25.6h0m1.5 5.8h0m2 46.5h0m2-41.2h0m1.8 36.3h0m1.9-26h0m1.9-16.2h0m1.9 31.5h0m1.8-25.6h0m1.7 44.7h0m1.8-5.8h0m1.8-21.1h0m1.8 13.5h0m2.1-.8h0m1.9-20.1h0m1.8 28.1h0m1.9-26.9h0m1.6 20.1h0" fill="none" stroke="#000" stroke-width="2.3" stroke-linecap="square"/>
</g>
<clipPath id="c_aO3"><rect x="61.0" y="748.3" width="282.9" height="282.4"/></clipPath>
<g clip-path="url(#c_aO3)">
<path d="M61 995.5l22 1.3 21.5 1 20.7 .9 19 .5 14.3 .3 8.3-.1 5.2-.4 2-.4 2-.5 3-1.2 1.5-1 1.3-.9 2.4-2.4 2.6-3.4 2.2-3.8 2.5-5.1 2.3-5.3 5.4-13.7 2.8-5.9 1.5-2.5 1.5-1.8 .8-.6 .7-.4 1.3-.2 1.4 .4 1.8 1.1 1.8 1.9 1.7 2.6 3.3 5.9 6.2 13.2 2.8 5.6 2.7 4.8 2.5 3.8 2.8 3.3 2.7 2.6 2.7 1.9 3.3 1.5 3.3 1 3.7 .7 4.5 .5 6 .3 31.8 .8 51.2 .6" fill="none" stroke="#777" stroke-width="1.4" stroke-linejoin="round"/>
<path d="M61 995.4l31.2 1.8 29.6 1.2 27.2 .8 22 .1 13.5-.4 4.3-.3 3.2-.4 2.5-.7 2-.9 1.7-1.2 1.6-1.5 1.4-2.1 1.3-2.4 1.3-3.1 1.2-4 1.2-4.9 1-4.8 1.3-7.2 1-6.6 2-16.1 2.3-22.3 2-22.9 4.2-51.9 2.2-23.8 1.3-10.4 1.3-7.7 .7-3.2 .5-1.4 .5-.9 .5-.3 .8 .3 .7 1 .7 1.7 1 3.2 1.6 6.8 1.7 10.7 1.5 11.1 1.5 12.3 5.7 51.9 2.6 21.4 2.4 19 2.6 16.1 2.2 11.9 1.2 5.5 1.3 4.8 1.3 4.2 1.4 4.2 1.3 2.9 1.5 2.9 1.5 2.3 1.5 1.8 1.5 1.5 1.7 1.2 2 1.1 2 .8 2.3 .6 2.7 .5 3.6 .4 4.7 .4 14.3 .7 20 .6 26.2 .4" fill="none" stroke="#777" stroke-width="1.4" stroke-linejoin="round"/>
<path d="M61 995.4l34.5 1.9 31.7 1.2 14.8 .3 12.8 .1 9-.1 5.7-.3 3-.5 2-.5 7.5-6.6 3.5-3.9 3.3-3.3 1.4-1.8 1.8-2.7 1.8-3.7 1.4-4.2 1.6-5.5 3.7-16.6 4-20.2 3.7-17.3 1.6-8.1 2.7-17.3 2-15.4 5-50.7 4-37.9 .7-5.5 .8-4 .5-1.5 .3-.4 .4-.1 .6 .3 .7 1.6 1.3 4.2 1.2 6 1.2 7.8 1.6 14 3.2 36.7 5.2 48.1 1.8 13.6 4.8 31.6 3 17.6 4.2 20.8 1.5 6.2 1.3 4.5 1 2.9 1.2 2.9 1 1.8 1.2 2 1 1.2 1.3 1.3 1.5 1.2 1.8 .9 1.7 .7 1.7 .4 1.6 .1 2 0 4.2 .6 5.5 .4 13.3 .7 20 .6 26.2 .6" fill="none" stroke="#111" stroke-width="1.0" stroke-linejoin="round"/>
<path d="M61.7 996.9h0m.2-.7h0m.4 1.1h0m.4-1.3h0m.1-1.1h0m.6 2.6h0m.1-2.8h0m.3-.2h0m.6 .1h0m.1 2.8h0m.4-3.9h0m.5 2.1h0m.1-.5h0m.5 .7h0m.3-.3h0m.3-.1h0m.5 .4h0m.3-1.2h0m.3 .6h0m.6 .8h0m.2 1.5h0m.2-.8h0m.7 .6h0m.1-1h0m.2-.5h0m.5-.9h0m.3 1h0m.3-1.7h0m.4 1.5h0m.3-1.3h0m.4 1.9h0m.5 .7h0m.2-.5h0m.3-1.5h0m.4 .7h0m.4 .1h0m.3 1.3h0m.5 .7h0m.5-2.2h0m.3 .3h0m.2 .2h0m.5-.1h0m.3-.7h0m.3 1.1h0m.4 .2h0m.2 0h0m.5-2.1h0m.3 1.5h0m.4-1h0m.3 2.2h0m.1-1.6h0m.7 .6h0m0-.3h0m.5 .1h0m.4-.3h0m.5-.6h0m0 2.8h0m.6-1.1h0m.2 0h0m.3 1.5h0m.4-1.8h0m.5-.1h0m.1-.7h0m.7 1.9h0m0-2.4h0m.4 1.8h0m.4-.5h0m.3 .5h0m.7 .7h0m.3-2.6h0m.4 1.6h0m0-.2h0m.6 .1h0m.2-1.3h0m.3 2.2h0m.5-1.3h0m.1 .5h0m.4-.2h0m.7-.9h0m.1 1h0m.5-1.1h0m.2 .7h0m.2 .6h0m.5 .2h0m.3 .1h0m.3-.1h0m.3 1.8h0m.5-1.3h0m.3-1.4h0m.4 .6h0m.6-.1h0m.3 .4h0m.3-.3h0m.1-.2h0m.6 2.1h0m.3-1.3h0m.3-.3h0m.2 .1h0m.4-.9h0m.4 2.2h0m.3-.7h0m.6 .5h0m.2-.8h0m.4 .2h0m.5 .6h0m.2 .8h0m.2-1.6h0m.4-1.3h0m.6 1.8h0m0-.9h0m.4-1h0m.5 1h0m.4 1.4h0m.4 .1h0m.3-.4h0m.3-1.4h0m.2 2.9h0m.3-2.9h0m.6 .3h0m.1-3.1h0m.6 3.5h0m.1 .6h0m.3 .4h0m.7 1.3h0m.1-1.7h0m.5-.1h0m.1-1.7h0m.7 2.3h0m0 0h0m.6-.2h0m.4-.5h0m.2 .2h0m.2 1.1h0m.4-.9h0m.3-.3h0m.7-1h0m.2-1.3h0m.5 1.8h0m.3 .6h0m.3-.3h0m.2 1.3h0m.3-.5h0m.7-.2h0m.3-.1h0m.2 .3h0m.5-.3h0m.3-.2h0m.2 .4h0m.3-1.7h0m.5 2.4h0m.5-2.1h0m.3 1.8h0m.1-.7h0m.3 .9h0m.4-.9h0m.3-.7h0m.7 1.6h0m.1-.7h0m.5 1.3h0m.1-.7h0m.7-.2h0m.1 .2h0m.5-.5h0m.3-1.4h0m.4 1.7h0m.1-.7h0m.3 .5h0m.5-.4h0m.6 .1h0m.3 1.1h0m.3-.7h0m.3-.3h0m.1 .2h0m.7-1.3h0m.3-.5h0m.3 .5h0m.4 1h0m.1-.7h0m.5 1.1h0m.4 .9h0m.4-1.6h0m.1 1.2h0m.6-.3h0m.4-1.6h0m.3-.5h0m.1 1.4h0m.7-.2h0m0 .4h0m.4-.5h0m.6 1h0m.2-4.2h0m.3 3.5h0m.5 .1h0m.3 .9h0m.1 .2h0m.4 0h0m.6-.1h0m.4-.6h0m0-.8h0m.6 .6h0m.4 .4h0m.2-1.5h0m.2 2.5h0m.5-.9h0m.6-4h0m.2 3.9h0m.2 2.6h0m.6-3.3h0m.3 1h0m.2 .5h0m.3 0h0m.3-1.4h0m.5 .4h0m.3-.7h0m.3 1.9h0m.6-1.9h0m.3 2.3h0m.2-.7h0m.6-1.5h0m.2 .9h0m.5 .8h0m.3-1.1h0m.3-.7h0m.3 1h0m.4-1.3h0m.4 0h0m.3-.7h0m.2 1.9h0m.3 0h0m.3-.3h0m.7 .1h0m.3 1.1h0m.2-.4h0m.3-1.2h0m.3 2h0m.6-2.2h0m.3 1.5h0m.4-.4h0m.3 .9h0m.3-.7h0m.4-.8h0m.4 .5h0m.3 .8h0m.2-.5h0m.4 1.4h0m.5-2.2h0m.2 1.5h0m.5-.6h0m.2-.2h0m.5-.6h0m0 .8h0m.4-1.5h0m.3 1h0m.5 .7h0m.3-1.8h0m.6-.1h0m.4 1.1h0m0 .5h0m.6-.2h0m.3 .3h0m.4-.5h0m.2 1h0m.5-.1h0m.1 .1h0m.5 .1h0m.3 .1h0m.3-.7h0m.4-.5h0m.4-1.6h0m.3 2.3h0m.4 .1h0m.4-.9h0m.4 .9h0m.4-4.2h0m.3 3.6h0m.2 .8h0m.4-.6h0m.3-1.6h0m.3 1.2h0m.4-1.1h0m.3 1.7h0m.5-1.1h0m.1 .3h0m.6-.4h0m.3 .7h0m.2 .1h0m.4 .7h0m.6-.2h0m.2-.5h0m.2 .1h0m.5-.1h0m.4 .4h0m.2 .7h0m.4 1.1h0m.3-2.5h0m.5 .4h0m.4 .6h0m.1-1.8h0m.4 1.2h0m.3 .4h0m.5 1.6h0m.2-3.9h0m.5 1.2h0m.5-.7h0m.3 1.5h0m.3-1.3h0m.1 2.1h0m.5-1.3h0m.3-.8h0m.5 .2h0m.2-.5h0m.3 1.2h0m.7 .7h0m.3-1.4h0m0 .4h0m.7-1h0m0 .9h0m.5 1.6h0m.6-3.1h0m.3 2h0m.2 .5h0m.4 .7h0m.3-3.5h0m.5 0h0m.1 1.5h0m.3-1.2h0m.4 0h0m.5-.1h0m.3 .3h0m.5-1.4h0m.1-.5h0m.6 .7h0m.4-1.9h0m.2 1.8h0m.1-1.7h0m.4-.7h0m.3 .9h0m.5-.6h0m.5-2.3h0m.1 1.2h0m.5-1.1h0m.2 .1h0m.6 .7h0m.1-1.4h0m.6 .4h0m.3-.9h0m.2 1.7h0m.5-2.2h0m.2-1.1h0m.5-.9h0m.3 .7h0m.3-1.2h0m.4 .6h0m.5 .2h0m.3-1h0m.4-.4h0m.2-.1h0m.5-.8h0m.1 .2h0m.6 .1h0m0-.3h0m.7-2.1h0m.3-1h0m.2 .6h0m.5 .3h0m.4-2.7h0m.1 1.6h0m.5 0h0m.1-.9h0m.6-1.3h0m.1 2.1h0m.6-1.2h0m.1-1.4h0m.5 .4h0m.5-1.1h0m.2 .8h0m.6-1.2h0m.1-3.3h0m.3 0h0m.6 .2h0m.1-1.7h0m.5-2.6h0m.5-.5h0m.3-.3h0m.2-1.4h0m.2-1.1h0m.5-.4h0m.3-3h0m.3 0h0m.4-4.4h0m.3 .9h0m.3 .1h0m.6-5.1h0m.1 2.5h0m.5-5.2h0m.3-1h0m.5-1h0m.3-2.2h0m.3-2.4h0m.5-1.9h0m.2-1h0m.5-2.3h0m.2-1h0m.5-2.5h0m.3-2.4h0m.3-.9h0m.2-2.1h0m.4-3.3h0m.2 1.3h0m.6-4.2h0m.4-.9h0m.4-.3h0m0-.6h0m.4-3.2h0m.6-1.3h0m.3-2.3h0m.1-1h0m.4-.2h0m.4-2.2h0m.4-1.7h0m.2-.9h0m.4-1h0m.4-3.4h0m.3-1.5h0m.4-2.6h0m.3-1.6h0m.4-3.4h0m.5-3.6h0m.4 .4h0m.3-5.2h0m.3-.2h0m.2-1.4h0m.3-2.2h0m.4-3.7h0m.7-4.3h0m.3-2.5h0m.2-2.6h0m.4-2.3h0m.4-3.9h0m.4-3.7h0m.1-.2h0m.6-6h0m.3-3.7h0m.2-2.3h0m.3-2.8h0m.3-3.1h0m.5-5.5h0m.5-6.4h0m.3-2.7h0m.1-1.1h0m.3-4.4h0m.5-2h0m.3-2.7h0m.3-4.6h0m.6-5.1h0m.2-1h0m.4-6.7h0m.3-2.7h0m.6-3.3h0m.2-3.9h0m.2 .2h0m.6-5.4h0m.1-3.3h0m.4-3.9h0m.3 1h0m.4-4.8h0m.3-2h0m.4-1h0m.3-2.2h0m.6 3.7h0m.1-5.8h0m.4 .7h0m.4 .6h0m.2-.1h0m.4 1.5h0m.4-.3h0m.4 2h0m.4 1.9h0m.2-.3h0m.5 4.1h0m.4 1.4h0m.2 2.3h0m.3-.3h0m.5 3.5h0m.3 2.2h0m.5 2.7h0m0 2.5h0m.6 2.4h0m.2 2.5h0m.3 2.7h0m.6 8.9h0m.1-1.6h0m.6 8.2h0m.4 2.9h0m.4 7.6h0m0-.2h0m.4 3.7h0m.3 2.6h0m.4 4.4h0m.6 7.2h0m.3 1.4h0m.1 1.8h0m.3 2.1h0m.6 7h0m.3 1.3h0m.2 1.7h0m.5 3.9h0m.2 2.6h0m.4 4.5h0m.3 1.8h0m.7 6.3h0m.1 2.2h0m.4 3h0m.2 2.7h0m.5 .8h0m.4 6.2h0m.4 3h0m.4 1.5h0m.1 .8h0m.3 4.2h0m.5 1.3h0m.3 2.4h0m.5 4.6h0m.2-.9h0m.3 4.1h0m.5 1.5h0m.3 3.4h0m.3 2.3h0m.2 .9h0m.6 2.4h0m.1 3h0m.7 3.9h0m.1 1.1h0m.4 3h0m.4 1.1h0m.5 5.1h0m.2-1h0m.3 2.3h0m.4 2.3h0m.2 .2h0m.4 3.5h0m.6 3.4h0m.4 .2h0m.1 2.6h0m.6 1.5h0m0 1h0m.6 3.4h0m.1-.5h0m.5 2h0m.3 .5h0m.4 4.2h0m.5 2.6h0m.1-.8h0m.3 .6h0m.3 3.8h0m.6 .3h0m.2 1.8h0m.3 .6h0m.4 .7h0m.6 4h0m.2 1.5h0m.2 .8h0m.6 2.4h0m.2-1.3h0m.4 2.1h0m.5 1.2h0m.3-.8h0m.3 .3h0m.5 3.1h0m.2-3.9h0m.3 3.4h0m.5 .6h0m.4 .8h0m.2 0h0m.2 1.3h0m.4 .9h0m.2-1h0m.4 1.9h0m.6-.4h0m.2-1h0m.5 1.1h0m.3 1.7h0m.3 1.1h0m.5-1.2h0m.2-1h0m.4 1.7h0m.3-2.2h0m.3 1.4h0m.5 2h0m.1-.5h0m.7-1.4h0m.3-.1h0m.3 .8h0m.2 .7h0m.4-1.3h0m.3 1.8h0m.4-.6h0m.2-1.1h0m.6 2.3h0m.4-.2h0m.2 .6h0m.5-1.9h0m.1 .1h0m.6 .3h0m.4 .4h0m.2 .1h0m.5 1.4h0m.2-1.5h0m.4-.3h0m.2 1.7h0m.2-1.2h0m.4-1.1h0m.6 3.8h0m.1-3.5h0m.6 .3h0m.1 1.1h0m.6 .2h0m.4-.9h0m.2-.9h0m.2 .2h0m.6 1.1h0m.2 1h0m.5 .6h0m.1-1.4h0m.4 0h0m.6 .6h0m.3 .6h0m.4-.5h0m.2-1h0m.4 .9h0m.5 .6h0m.2-1.4h0m.1-.4h0m.4 .1h0m.3 1.3h0m.4 .5h0m.3-.7h0m.5-.6h0m.4 .2h0m.5-.4h0m.2 .1h0m.2 .3h0m.7 .1h0m.3 1.3h0m.4 .1h0m0-1h0m.5 .9h0m.4 .4h0m.3-1h0m.2-.5h0m.7 1h0m.2-.2h0m.1-.8h0m.5 1.6h0m.5 .9h0m.1-.7h0m.6-.4h0m.1-1.4h0m.5 .6h0m.3-1h0m.3 1.5h0m.6-.5h0m.1-.6h0m.6 .6h0m.4-.5h0m.1-.3h0m.2 1.4h0m.6 .5h0m.2-1.3h0m.6 .6h0m.1 .8h0m.5-1.8h0m.1 .1h0m.5-.3h0m.3 3.8h0m.6-6h0m.2 2.8h0m.4-.9h0m.1 1.7h0m.5 .4h0m.6-1h0m.2-.1h0m.4 1h0m.3-1.6h0m.2 1h0m.6 .5h0m.1-1.1h0m.3 0h0m.6 .8h0m.1-.2h0m.6-.1h0m.3 .3h0m.3 .1h0m.4-.9h0m.3 .2h0m.2 .9h0m.3 .5h0m.5 .2h0m.2-1.7h0m.4 1.5h0m.4-.7h0m.5 3.4h0m.3-3.1h0m.2 1.4h0m.6-.6h0m.4-2h0m.3 1.3h0m.3-1.8h0m.2 1.2h0m.6 .9h0m.2 0h0m.2-1.5h0m.6 .6h0m.3-.3h0m.3-.6h0m.3 1.8h0m.5-.7h0m.3 .2h0m.3 .2h0m.2 1.1h0m.4-1.4h0m.6 .1h0m.2 1.3h0m.4-1.1h0m.2-.7h0m.5-.6h0m.3 1.9h0m.5-.6h0m.4 .2h0m.1-.3h0m.3-.2h0m.3-.5h0m.4-.1h0m.4 1.1h0m.6-.3h0m.2 1.2h0m.4-1.8h0m.3 .2h0m.1 1.3h0m.4 .2h0m.5-2.1h0m.2 3.4h0m.4-1.3h0m.6-1.2h0m.3 .7h0m.1-2.3h0m.3 3.3h0m.7-2.9h0m.2 1.5h0m.3 .2h0m.5-.9h0m.3-2.3h0m.5 3.2h0m0-.7h0m.6 0h0m.2-.8h0m.3 1.1h0m.4 1.8h0m.2-2.2h0m.4 2.2h0m.3-2.1h0m.6 1.1h0m.4-.3h0m.1-.5h0m.4-1.2h0m.6 1h0m.2 1.3h0m.3-1.1h0m.6 .7h0m.2-.9h0m.3 2h0m.4-1.9h0m.1-.4h0m.5 .3h0m.5 .2h0m.3 .5h0m.5-.7h0m.1 .7h0m.4-.4h0m.2-1.7h0m.4 1.8h0m.3-.4h0m.4-.2h0m.3 1h0m.5 .7h0m.3-.6h0m.5-1.6h0m.4 1.4h0m.2-1.4h0m.4 .7h0m.3 1.3h0m.3-.9h0m.4-.5h0m.4 .6h0m.5 .5h0m.3 .8h0m0-2.8h0m.6 .2h0m.1 1.2h0m.6 0h0m.4 .2h0m.3-1.6h0m.1 1.4h0m.5-.8h0m.3 2.1h0m.5 .2h0m.4 .1h0" fill="none" stroke="#000" stroke-width="2.0" stroke-linecap="round"/>
</g>
<clipPath id="c_aS3"><rect x="343.9" y="748.3" width="282.8" height="282.4"/></clipPath>
<g clip-path="url(#c_aS3)">
<path d="M343.9 999.4l20.3-.4 4.7-.3 3.3-.4 1.4-.4 1.6-.6 2.2-1.4 1-.9 1-1.1 1.8-2.6 1.4-3.2 1.6-4.1 1.4-5.2 1.6-6.4 1.4-7.6 1.8-10.3 5.2-35.7 2.3-13.5 1.3-5.9 1-3.5 .7-1.9 .5-.9 .5-.5 .5-.2 .5 .1 .7 .6 .6 .7 .7 1.5 1.3 3.5 1.4 5.7 2.6 12.4 5 28.9 2.2 12.2 2.5 11.7 2.3 8.5 1.2 3.9 1.2 3.3 1.3 2.8 1.5 2.7 1.5 2.1 1.5 1.6 1.8 1.4 1.7 1 1.7 .7 1.8 .5 4.5 .7 7.3 .4 12.7 .3 49.3 .5 115.7 .4" fill="none" stroke="#6a6a6a" stroke-width="1.1" stroke-linejoin="round"/>
<path d="M343.9 999.4l18.7-.3 13.6-.4 8.7-.5 3-.3 2.3-.4 2-.6 1.7-.7 1.5-.9 1.5-1.3 1.3-1.5 1.2-2 1-1.9 1-2.4 1-2.9 1-3.4 1.8-7.7 1.7-9.9 1.7-12.6 1.8-15.3 2-20.5 6.2-75.4 2.3-24 1.3-10.6 1.2-8 .8-3.4 .4-1.6 .8-1.5 .5-.3 .5 .3 .5 .9 .5 1.6 .8 3.4 1 6.5 1.2 11 2.2 25.6 4.3 56.2 2 24.6 2 21.3 2 17.2 1 7.1 1.3 7.4 1 5 1.2 5.1 1.2 4.1 1.6 3.6 1.4 2.6 1.6 1.9 1.4 1.2 1.6 .9 2 .8 2.2 .5 2.8 .4 3.7 .4 11.7 .6 17.8 .4 26.2 .3 104.3 .4" fill="none" stroke="#6a6a6a" stroke-width="1.1" stroke-linejoin="round"/>
<path d="M343.9 999l16.5-.5 5.8-.3 2.7-.4 6.5-4.1 1.5-1.1 1.5-1.5 1.5-1.8 1.5-2.2 1.2-2.5 1.3-3 1.7-5.4 2-7.9 1.8-7.9 1.2-6.8 1-6.4 .8-6 3-29.2 1-6.9 1.2-6.9 4.3-18.3 2.7-10.3 2.6-7.8 3.2-8 1.5-5.5 .7-3.7 1-6.4 3.8-29.6 1-6.9 1.2-7.4 1.3-6.1 1.5-5.6 1.2-3.4 .8-1.1 .5-.2 .5 .3 .2 .3 .8 1.6 .5 1.8 .7 3.6 1.3 8.7 1.5 13.7 1.5 16.3 1.5 18.6 4 55.7 1.8 22.4 1.7 18.8 2 17.5 1 7.2 1.3 7.6 1.2 6.4 1.2 5.3 1.3 4.3 1.3 3.2 1.2 2.4 1.5 2.1 1.7 1.6 2 1.2 2.6 .8 2.2 .3 3.2-.2 4.6-1 7.7 .5 9.5 .3 26.8 .5 42.2 .4 71.5 .3" fill="none" stroke="#111" stroke-width="1.4" stroke-linejoin="round"/>
<path d="M344.5 995.2h0m1.5 0h0m2.2 3h0m1.4-1.4h0m2-2.1h0m1.7 .7h0m1.7-1.7h0m2 7.6h0m1.7-4.9h0m1.7-1.9h0m2.1-2.3h0m1.6 .3h0m2.1-7h0m1.6 9.7h0m1.7-4.8h0m1.7 .3h0m2.1 9.8h0m1.5-10.5h0m2.1-.3h0m1.7 1.5h0m1.8-3.1h0m1.6-4.5h0m2-7.8h0m1.6-6.8h0m2.1-4.8h0m1.8-9h0m1.6-11h0m1.9-13.5h0m1.7-20.1h0m2-7.7h0m1.6-10.2h0m1.8-10.4h0m1.8-5.1h0m2.1-13.1h0m1.7-4.7h0m1.7-6.4h0m1.9-1.1h0m1.6-6.4h0m1.8-6.2h0m2.1-17.8h0m1.4-4.3h0m2.1-18.9h0m1.9-12.5h0m1.4-6.7h0m2.1-2.7h0m1.8 1.5h0m1.5-2.5h0m2 14.1h0m1.7 17.4h0m1.9 22.8h0m1.8 18h0m1.8 34.7h0m1.6 17.3h0m1.9 22.6h0m1.8 17.6h0m2 24.1h0m1.8-.8h0m1.8 16.1h0m1.8 5.1h0m1.9 2.9h0m1.6 1.7h0m1.7 6.4h0m1.7-1.5h0m2.1 0h0m1.7 2.8h0m1.7 3.1h0m1.9-5.7h0m2 .6h0m1.6-2.9h0m1.7 2.4h0m2 .1h0m1.7-.7h0m1.6-.6h0m1.8-1.9h0m2.2 .6h0m1.4 1h0m2.1 3.9h0m1.5-2.7h0m2-.7h0m1.7 3.6h0m1.8-.2h0m1.7-3.1h0m2-4.7h0m1.9 8.2h0m1.7 6.8h0m1.7-10.3h0m2-8.1h0m1.8 10.1h0m1.7 2.7h0m1.7-4.6h0m1.7 4.2h0m1.8-1.1h0m2 6.3h0m1.6-14h0m2.2 8.9h0m1.7-5.3h0m1.6 3.8h0m1.9 10.7h0m1.7-21.5h0m2.1 3.7h0m1.6 8.4h0m1.9-.4h0m1.6-1.6h0m1.9 3.5h0m1.9 3.3h0m1.7-3.2h0m1.6 3.4h0m2-6.3h0m1.9-6.6h0m1.7 5.1h0m2-1.5h0m1.6 3.7h0m2-.8h0m1.4-3.2h0m2.1 .2h0m1.7 2.1h0m1.7-1.8h0m2.1 2.5h0m1.4 2.3h0m2-2.2h0m1.7-.1h0m2.1-4.5h0m1.7 2.1h0m1.6 2.3h0m1.8 .9h0m1.7 6.8h0m1.9-6.4h0m2.1-1.8h0m1.7-1h0m1.8 2.6h0m1.7 .4h0m1.8-2.3h0m1.8-4.2h0m1.9 3.1h0m1.5-2.5h0m1.9 7.7h0m1.9 3h0m1.7 3.9h0m2.1-12.6h0m1.4 4.3h0m2.2-4.2h0m1.5-.7h0m1.8 3h0m1.9-2.7h0m1.9-1.2h0m1.9 4.7h0m1.6 5.4h0m2-2h0m1.8-3.7h0m1.8-1.9h0m1.5 2.3h0m1.9 2h0m1.6-5.5h0m2-1.6h0m1.7-3.7h0m1.7 9h0m2.1-10.3h0" fill="none" stroke="#000" stroke-width="1.8" stroke-linecap="square"/>
</g>
<clipPath id="c_bO1"><rect x="699.6" y="182.6" width="282.5" height="282.3"/></clipPath>
<g clip-path="url(#c_bO1)">
<path d="M699.6 449l61.5 .1 73.7 .5 7 0 3.3-.3 2-.5 1.7-.9 1.6-1.4 1.2-1.8 1.2-2.3 1.3-2.9 3.7-10.7 1.3-3.1 .7-1.5 .8-1 .8-.5 .4-.1 1 .3 1 .6 1 .9 1.3 1.6 2.3 3.7 5.7 10.7 2 3.2 1.7 2.2 2 2.1 2 1.6 2.3 1.2 2.5 .9 2.2 .6 3 .6 15.3 2.4 14 3.2 3.3 .6 3 .3 2.7 .1 52 .1" fill="none" stroke="#777" stroke-width="1.4" stroke-linejoin="round"/>
<path d="M699.6 448.9l115.8 .3 25.4-.2 9-.3 5.8-.6 2-.5 1.5-.6 1.3-.7 1.2-1 1.5-1.7 1.3-2 1.2-2.7 1.2-3.5 1.3-4.5 1-4.4 2-11.4 1.7-12.9 2-18.2 2-21.2 4.3-48.3 2-19.3 1.3-9.3 1-5.4 1-3.4 .4-.8 .6-.3 .4 .2 .8 1.3 .5 1.3 .7 2.9 1.3 6.8 1.3 9.1 2.2 20.4 6.2 64.4 2 17.6 2 14.7 1.8 10.5 2 9.5 1 3.7 1.2 4 1 2.6 1.3 2.7 1.3 2.2 1.2 1.7 1.5 1.7 1.7 1.4 1.8 1.1 2 .9 2.2 .7 2.6 .5 2 .3 3.2 .2 12.2 .4 37.3 .4" fill="none" stroke="#777" stroke-width="1.4" stroke-linejoin="round"/>
<path d="M699.6 449l61.8 .1 90.2 .5 27 .8 3.5-.1 2.5-.4 2-.7 1.8-1.2 1.4-1.8 1.3-2.1 1.3-3 1-3.2 1-4 1-5 1-6.1 1-7.3 1.7-15.8 1.7-19.6 1.8-22.9 3.8-52.6 1.7-21 1-9.4 1-7 .5-2.4 .5-1.7 .5-.9 .2-.2 .3 0 .3 .3 .2 .6 .5 1.8 .5 2.9 .8 6 1 10.9 1.7 24.9 4.3 68.9 1.4 20.8 1.3 14.5 1.3 11.8 1.4 10.9 1.6 7.8 1.4 5.2 1.6 3.4 1 1.5 1 1.1 1 .8 1.2 .7 1.2 .5 1.8 .4 5.2 .6 9 .4 12.3 .3 17 .2" fill="none" stroke="#777" stroke-width="1.4" stroke-linejoin="round"/>
<path d="M700.3 446.9h0m0 1.3h0m.6-9.2h0m.5 2.1h0m.3-5.7h0m.2 6.4h0m.7 .8h0m.4-3.5h0m.3-3.5h0m.2 29.2h0m.7-7.2h0m.4-5.7h0m.4-16.3h0m.4-8.2h0m.2 11.5h0m.5 14.4h0m.4-1.9h0m.4-2.6h0m.4-11h0m.5 2.9h0m.5 4.5h0m.2-13.6h0m.3 13.4h0m.6 24.3h0m.4-27.9h0m.3 6.9h0m.5-27.6h0m.4 25.3h0m.4 1.3h0m.2-3.9h0m.6 8.8h0m.3-6.8h0m.6 8.2h0m.2-8.6h0m.5 14.6h0m.4-17.3h0m.2 17.8h0m.3-27.1h0m.7 14.5h0m.1-.2h0m.8-5.3h0m.3-5.5h0m.3-.2h0m.5 5.9h0m.2 21.2h0m.6-27.6h0m.5 30.3h0m0-18.7h0m.8-11.6h0m.1 2.3h0m.5 1.1h0m.6-.2h0m.3-10.5h0m.3 22.2h0m.6-7.4h0m0 9.6h0m.7-1.4h0m.3-.2h0m.6-22.6h0m0 14.4h0m.5-2h0m.5 .4h0m.2-6.9h0m.7-8.3h0m.4 10.3h0m.5 9.3h0m.1-1.9h0m.5-20h0m.6 8.6h0m0-5.3h0m.7-2.9h0m.2 22.5h0m.7-5.2h0m.2-19.5h0m.6 18.3h0m0 8.7h0m.6 2.5h0m.4-16h0m.2 5.2h0m.6-1.5h0m.5 22h0m.3-13.1h0m.4-4.6h0m.3-8h0m.5 8.2h0m.4 1h0m.6-3.9h0m.4 10h0m.2-10.7h0m.4 8.8h0m.3-4.5h0m.5-4.4h0m.3-2.7h0m.7-.2h0m.2-5h0m.2 6.9h0m.5 5.2h0m.7 1.9h0m.1-16.1h0m.5 26.8h0m.6-18.6h0m.3-13.7h0m.2 26.7h0m.4-10.8h0m.5 9.1h0m.3-22.6h0m.7 18.7h0m.2-2.5h0m.6 19.4h0m.4-10.4h0m.3 2.4h0m.3-10.2h0m.4-3.8h0m.4-5.1h0m.5-1.7h0m.4 9.1h0m.4 7.9h0m.2-15.1h0m.6 17.3h0m.3-9.2h0m.5 7.5h0m.1-13h0m.7 7.6h0m.4-16h0m.2 13.3h0m.4 5.8h0m.4-7.5h0m.5 5.6h0m.6-12.6h0m.4-.3h0m.2 11h0m.2-7.8h0m.8 10.7h0m.4-12.1h0m0-4.3h0m.7 6.9h0m.4 14.8h0m.4-15.4h0m.4 5.6h0m.1 1.6h0m.5-7.8h0m.4 38.1h0m.6-48.5h0m.1 32.2h0m.5-26.5h0m.4-.5h0m.3 4.5h0m.6 5.7h0m.3-.2h0m.5 6.2h0m.3 4.9h0m.6-11.3h0m.1 5.3h0m.7-.7h0m.4 7h0m.2-15.3h0m.5 9.4h0m.4 7.1h0m.4-13.3h0m.5 7.5h0m.1-10.5h0m.5-1.8h0m.6 13.9h0m.1-7.1h0m.7-1.5h0m.2 .8h0m.3 6.3h0m.7-7.6h0m.2 7.2h0m.7-2.3h0m.4 6.9h0m.4-1.4h0m.4-8.1h0m0-1.4h0m.4 3.4h0m.6-6h0m.4 18.9h0m.4-16.4h0m.4 5h0m.5 5.3h0m.4-26.8h0m.5 12.5h0m.3-.4h0m.5-.6h0m0-8.8h0m.4 3.5h0m.6 2.1h0m.6 14.3h0m.2-4.4h0m.2-.1h0m.5 13.6h0m.4-9.2h0m.6-1.8h0m.2-9.8h0m.6 8.4h0m.5-2.6h0m.3 27.9h0m.5-9.7h0m.1-21.3h0m.4-1.8h0m.4 9.2h0m.3-.7h0m.8-.2h0m.1-3.3h0m.6-13.3h0m.2 15.6h0m.5-13.2h0m.4 19.9h0m.5-5.5h0m.2-16.1h0m.4 10.5h0m.4 9h0m.4-13.4h0m.6-1.3h0m.5 24.9h0m0-8.5h0m.7-2h0m.4 1.8h0m.1-29.6h0m.5 33.3h0m.6-9.1h0m.2-.4h0m.7-.7h0m.2 2.1h0m.6 2.1h0m.2-6.5h0m.3 13.3h0m.5-11.5h0m.4 5.4h0m.2-29.7h0m.7-.2h0m.5 16.4h0m.4 17h0m.3 6.1h0m.3-11.6h0m.3-12h0m.7 7.4h0m.3 1.2h0m.4 7.1h0m.4 8.6h0m.4-9.6h0m.2-23.5h0m.3 13.1h0m.8 5.2h0m0 2.3h0m.5 9.9h0m.5-15h0m.2-7.1h0m.5 .3h0m.6 7.9h0m.4 6.6h0m.3 3.8h0m.2-10.8h0m.6-12.3h0m.2 23.9h0m.6-13.5h0m.4 12.5h0m.4-8h0m.3 0h0m.6-3h0m.3 15h0m.6-16.5h0m.1-1.4h0m.4 3.5h0m.4-3.3h0m.6 6.2h0m.2-1.5h0m.6 4.7h0m.4-6.5h0m.2-.2h0m.4 6.4h0m.3-5h0m.6-15.4h0m.5 15.6h0m.2 4.2h0m.7-5.6h0m0-19.7h0m.7-3.6h0m.2 21.8h0m.7-2.4h0m0 8.1h0m.8 4.2h0m.2 10.8h0m.3-35h0m.3 22.3h0m.5 2h0m.5 1.2h0m.6-8.7h0m.4 22.5h0m0-22.4h0m.6-.6h0m.2-6.3h0m.4 2h0m.6 1.2h0m.4 9.9h0m.6 4.8h0m.4-13.9h0m.1 12.6h0m.6-7.7h0m.4-17.3h0m.4 17.2h0m.3-5.5h0m.4 1.4h0m.4 9.8h0m.4-30.5h0m.4 21.9h0m.6 .1h0m.1 2.7h0m.5-7.7h0m.4 11.8h0m.5-16.6h0m.2 1h0m.5 12.4h0m.5-7.7h0m.3-5.2h0m.5 14.5h0m.3-2.5h0m.2 3.4h0m.5-.1h0m.4-5h0m.5 0h0m.3 6.4h0m.4-1.4h0m.6-11h0m.5 7.1h0m.3 2.5h0m.4-2.3h0m.5-5.7h0m.4 0h0m.1-9.6h0m.7 20.9h0m.1-16.2h0m.4 1.2h0m.6 3.9h0m.2 5.6h0m.7 4.2h0m.4-4.6h0m0-6.4h0m.7 24.5h0m.5-25.8h0m.2 .4h0m.4 12.3h0m.4 1.3h0m.4-21h0m.4-3.8h0m.5 23.1h0m.5-13.7h0m0 12.4h0m.5 12.6h0m.3-23.5h0m.4 4.2h0m.5-.8h0m.7-9.4h0m.1 26.8h0m.5-17.4h0m.3-2.4h0m.7 10.8h0m.1 1.4h0m.5-8.5h0m.3-.2h0m.4 3.9h0m.3-1.7h0m.6 .5h0m.3-2.5h0m.3 9.8h0m.8-8.4h0m.1 15.5h0m.3-19.4h0m.6 1.1h0m.4 5.8h0m.5-1.3h0m.2 3.3h0m.4-14.9h0m.6 10h0m.3 6.5h0m.6-10.8h0m.1 2.7h0m.4-14.1h0m.4 14h0m.4-1.4h0m.4-10.7h0m.5 17h0m.3 11.6h0m.7-24.5h0m.1 6.1h0m.7-6.9h0m.1-4.1h0m.5-4.3h0m.6 23h0m.3-8.8h0m.5-8.7h0m.2-19.7h0m.3 23.5h0m.6-8.9h0m.4-4.8h0m.1 6.8h0m.4-9.9h0m.8-6.3h0m.3 17.7h0m.4-21.2h0m.2 15h0m.7-14.7h0m.1 9.4h0m.4-1.6h0m.4-2.2h0m.4-11.6h0m.3 13.1h0m.7-.2h0m.4 5.9h0m.2-6.6h0m.5 6.3h0m.5-11.5h0m.3 6h0m.4-4.4h0m.3 22.9h0m.5-17.5h0m.3-10.4h0m.6 10.7h0m.2-3.3h0m.3 5.6h0m.8-17.1h0m.1 13h0m.5-11.8h0m.5-1.9h0m.2 10.1h0m.7-7.9h0m.1-1.4h0m.4-11.5h0m.3 10.8h0m.8-10.2h0m.1 .9h0m.7-14.5h0m.2 16.8h0m.6-33.3h0m0 16.6h0m.7-7.7h0m.5 11.4h0m.3-20.9h0m.2 28.1h0m.7-3.6h0m.3-20.5h0m.2-4.7h0m.7-7h0m0 4.3h0m.5-28.5h0m.3 21.3h0m.6-19.9h0m.4 4.5h0m.2-5.6h0m.6-3.1h0m.6-4.2h0m0-7.3h0m.7-4.6h0m.2 6.1h0m.5-14.9h0m.3-7.6h0m.4 8.3h0m.3-.2h0m.6-13.1h0m.4 1.3h0m.5 3.2h0m.2-11.5h0m.7-6.4h0m0 8.6h0m.5-6.3h0m.6-4.8h0m.2-13.4h0m.4 15.7h0m.5 .3h0m.5-4.8h0m.4 14.8h0m.2-10.3h0m.6-13h0m.1 33.5h0m.8-12.2h0m.3-1.2h0m.5 5h0m.1-16.9h0m.5 2.9h0m.5 19.7h0m.1-13h0m.7 12h0m.4 4.6h0m.4-9.6h0m.2-1.5h0m.6 10.2h0m.3 3h0m.3 4.2h0m.4-17.2h0m.6 13.6h0m.3 .3h0m.3 14h0m.4-7.3h0m.6 1.4h0m.2-4.9h0m.4 2h0m.6 19.2h0m.5-15.3h0m.3 18.3h0m.5-9.9h0m.1-9.5h0m.4 8h0m.4-12.9h0m.4 .4h0m.4 4.6h0m.6 .2h0m.2-4.4h0m.5 2.2h0m.4-6.8h0m.6-12.8h0m.1-10.1h0m.6 20h0m.2-14.8h0m.6 12h0m.3-4h0m.2-19.2h0m.6 15.5h0m.3-30.4h0m.4 2.9h0m.4 8.1h0m.3-4.4h0m.7-3.1h0m.3 5.1h0m.5-5.3h0m.3-12.6h0m.4 2.9h0m.4 .9h0m.4 0h0m.6-10.7h0m.1 14.5h0m.4-3.5h0m.3-7.5h0m.5 2.6h0m.5 3.7h0m.4 17.6h0m.5 10.4h0m.4-3.1h0m.1 3.7h0m.6 5.4h0m.3 3.8h0m.3-9.6h0m.6 13.2h0m.5 12.7h0m.1 25.2h0m.6-15.8h0m.2 5.8h0m.7 21.9h0m.3 7.4h0m.2-6.7h0m.6 5.2h0m.3 7.1h0m.4 11h0m.6 3.4h0m.3 12.6h0m.6 8.8h0m.4 2.6h0m.3 13.9h0m.3 2.1h0m.6-2.6h0m0 8.6h0m.7 1.8h0m.2 8.5h0m.6-5.9h0m.1 7.2h0m.6 2.1h0m.2-1.2h0m.5 8.6h0m.5 3.1h0m.3-.7h0m.6-5.7h0m.3 15.8h0m.3-15.7h0m.5 18.7h0m.4-4h0m.2 2.3h0m.7-15.2h0m.4 7h0m.5-1.3h0m.4 6.2h0m.1 9.8h0m.6 10.2h0m.3-21.3h0m.2-6h0m.7 12h0m.2-2.3h0m.5 9.8h0m.4-5.9h0m.4-3.8h0m.3 8.8h0m.6-6.9h0m.1 12.6h0m.6 4.4h0m.3-17.8h0m.7 13.4h0m.4 16.3h0m.3-35.7h0m.5 18.2h0m.3-5.2h0m.4 1h0m.4-6.1h0m.5 10h0m.1-10.8h0m.6-10.9h0m.2 25.8h0m.5-7.4h0m.3-3h0m.6-8.3h0m.4-3.6h0m.5 31.9h0m.3-9.1h0m.1-1.7h0m.5-5.9h0m.3 2.8h0m.7-10.2h0m.2 2.4h0m.7 16.6h0m.1-23.2h0m.7 11.6h0m.3-1.8h0m.4-3.7h0m.3 3.7h0m.6-7.4h0m.1-11.3h0m.6 10.5h0m.5-.4h0m.2 17.1h0m.5-13.4h0m.2-9h0m.5 9.9h0m.4-3.1h0m.3-15.7h0m.3 22.1h0m.8 6.3h0m.3 1.5h0m.2 3.6h0m.5-11.8h0m.4 4.7h0m.6-10.3h0m.2 7.5h0m.5 8.8h0m.4-6.6h0m.1 13.1h0m.6-40h0m.6 21.3h0m.3-5.8h0m.5 8.2h0m.1-4.7h0m.6 2.9h0m.2-4.5h0m.7 18.4h0m.3 0h0m.3-11.1h0m.4 15.9h0m.4-15.4h0m.6-6.9h0m.2 4.7h0m.2-15.1h0m.6 21.5h0m.2-18.1h0m.5 9.9h0m.5-10.3h0m.4 3.1h0m.2 10.4h0m.5-3.4h0m.4 7.2h0m.4-1.1h0m.5-10.8h0m.2 18.1h0m.4-10.2h0m.5-6.5h0m.6 15.2h0m.5 .9h0m.3-1.8h0m.1-4.5h0m.7-9.2h0m.4 8.8h0m.4 8.8h0m.4-30.8h0m.2 47.1h0m.5-13h0m.4-8.6h0m.2 1.9h0m.6-24.6h0m.3-10.7h0m.7 22.2h0m.3 5.2h0m.4-11.4h0m.1 9.4h0m.7 1.1h0m.4-.3h0m.3 1.3h0m.3 3.2h0m.5-.6h0m.4-3.5h0m.4 2h0m.3-4.9h0m.6 8.4h0m.5-8.4h0m.1 13.8h0m.7 16.5h0m0-25.3h0m.7-6.6h0m.2 2.6h0m.5 3.3h0m.3-.9h0" fill="none" stroke="#000" stroke-width="2.0" stroke-linecap="round"/>
</g>
<clipPath id="c_bS1"><rect x="982.1" y="182.6" width="281.9" height="282.3"/></clipPath>
<g clip-path="url(#c_bS1)">
<path d="M982.7 400.9h0m1.6 20.7h0m1.9-26.2h0m1.5 18.6h0m2.1-12.5h0m1.7-21.7h0m1.6 2.3h0m1.8 3h0m1.7 9.8h0m1.9-.1h0m1.4 31.8h0m2.1-52.8h0m1.5-23.3h0m1.8 63.5h0m1.9-27.8h0m1.5 7.3h0m1.8 62.2h0m1.9-26.5h0m1.8-21.4h0m1.5 7.7h0m2-20.3h0m1.6 19.1h0m1.6-37.7h0m1.9-3.2h0m1.7 5h0m1.8 47.4h0m1.8-1.3h0m1.7-51.7h0m2 40.8h0m1.5-31.8h0m1.7 28.4h0m2-33.7h0m1.7 29.3h0m1.8-25.9h0m1.6-4.9h0m1.8 5.5h0m1.6 3.5h0m2-18.3h0m1.5-19.2h0m2 71.4h0m1.5-50h0m2-34.4h0m1.7-11.5h0m1.8-13.4h0m1.5 51h0m2 45.7h0m1.6-71.4h0m1.6 30.3h0m2-36.7h0m1.5 68.8h0m2-18.3h0m1.7-1.8h0m1.6 23.6h0m1.7 6.3h0m1.8-15.3h0m1.9-38.8h0m1.8-18.4h0m1.8 5.9h0m1.5-17.3h0m1.7 83.4h0m2-47.9h0m1.8 6.9h0m1.7 .9h0m1.6 42.5h0m1.7-61.6h0m1.9 40.6h0m1.8-21.3h0m1.5-11.3h0m2-42.4h0m1.8 66.6h0m1.8-40h0m1.5 6.3h0m1.8 15.6h0m1.6-3.6h0m1.8 23.7h0m1.9-43.1h0m1.6 19.2h0m2 2h0m1.5-6.5h0m2 14.9h0m1.5-22.7h0m2 34h0m1.6-45.9h0m1.6-17.8h0m1.8 32.6h0m1.8 28.4h0m1.6-40.6h0m2.1-3.2h0m1.8 6.2h0m1.7 11.6h0m1.4-8.4h0m2.1 11.1h0m1.7-48.4h0m1.8 75.8h0m1.7-21.9h0m1.5-34.4h0m1.8 52.6h0m1.8-22.1h0m1.7 24.1h0m1.7-62.8h0m2.1 67h0m1.5-38.2h0m1.8-49.8h0m1.6 66.5h0m2-25h0m1.8-16.8h0m1.4 18.9h0m1.8-40.9h0m2 59.8h0m1.5-18.9h0m1.7-1.3h0m1.8 39.9h0m1.8-32.6h0m2-16.5h0m1.7-6.9h0m1.7 21.1h0m1.6 26.7h0m2-38.9h0m1.7-10.8h0m1.5 46.4h0m1.8-20.4h0m1.9-1.9h0m1.7 50h0m1.7-78.1h0m1.8 33.5h0m1.6-46.7h0m1.9 35h0m1.6 21.1h0m2.1 12.9h0m1.7-56.7h0m1.6 50h0m1.9-1.2h0m1.7-21.4h0m1.7 61.4h0m1.8-58.2h0m1.7-20.7h0m1.9 31h0m1.7-54h0m1.5 81.2h0m1.7-13.4h0m2.1-32.7h0m1.6 24.2h0m1.7-1.7h0m1.7 33.3h0m2-60.1h0m1.4-15.9h0m1.8-17.3h0m1.8 41.4h0m2-29.9h0m1.6 33.3h0m1.7 14.1h0m1.7-20h0m1.7-11.6h0m1.7 50.9h0m1.8-32.6h0m1.7 10.5h0m1.9 17.4h0m1.7-53.1h0m2 9.5h0m1.7 81.3h0m1.6-62.5h0" fill="none" stroke="#000" stroke-width="3.0" stroke-linecap="square"/>
</g>
<clipPath id="c_bO2"><rect x="699.6" y="464.9" width="282.5" height="282.0"/></clipPath>
<g clip-path="url(#c_bO2)">
<path d="M699.6 722.6l40 1.6 35.5 1.2 27.3 .7 18.4 .3 8.6-.2 5.4-.6 2.3-.4 2-.7 2-.8 1.7-1.1 2-1.6 1.8-1.7 1.8-2.3 1.4-2.3 1.8-3.3 1.5-3.4 1.5-3.9 1.5-4.5 2.7-9.6 3-12.7 2.8-13.2 6.8-34.5 1.7-8.2 1.5-6.2 2-6.9 1.8-4.5 1-1.8 .7-.9 1-.8 .7-.1 .8 .2 1 .8 1 1.3 1 1.9 1 2.4 1 2.8 2 7 1.8 7.3 1.7 8.1 6.7 34.1 2.8 13.2 3 12.9 2.8 10.1 2.4 7.8 2.6 6.4 2.7 5.6 2.7 4.4 1.6 1.9 1.4 1.6 1.8 1.6 1.8 1.2 2 1.2 2 .9 2 .7 2.2 .5 5.8 .6 9 .5 14.7 .3 19 .3" fill="none" stroke="#666" stroke-width="1.3" stroke-linejoin="round"/>
<path d="M699.6 722.7l85.5 3.3 36.5 1.1 22.5 .6 21.7 .1 10.8-.2 2.5-.2 2-.5 1.5-.7 1.5-1 1.5-1.6 1.2-1.9 1.3-2.7 1.3-3.5 1.2-4.6 1-4.7 1-5.5 1-6.5 2-16.3 2-20.3 1.8-20.7 4-50.7 2-21.9 1.2-10.5 1-6.1 .5-2.1 .5-1.6 .5-.9 .5-.2 .5 .4 .5 1.1 1 4.3 1 6.7 1.2 11.5 2 23.5 5 66.2 1.8 19.9 1.5 14.5 1.5 11.9 1.5 9.4 1.7 8.2 1.8 5.8 .8 1.9 1 2 1 1.5 1 1.2 1.2 1.1 1.2 .8 1.6 .6 1.7 .5 2.3 .4 2.7 .4 8.5 .5 12.2 .4 16.3 .2" fill="none" stroke="#666" stroke-width="1.3" stroke-linejoin="round"/>
<path d="M699.6 722.5l48 1.9 39 1.2 27.5 .5 8.7 0 6-.2 3.3 .7 2.5 .1 2.8-.2 2.4-.9 2.6-1.4 2.2-1.9 2-2.3 1.8-2.5 1.7-2.9 1.5-3 1.5-3.5 1.5-4.1 1.5-4.6 1.5-5.2 2.5-9.9 2.7-12.6 7.6-40 2.2-11.2 2.5-10.5 1.3-4.3 1.2-3.5 1.2-2.9 1-1.6 1.3-1.4 1.3-.7 1-.2 1.2 .2 1.2 .5 2.3 1.1 1.3 .4 1 0 1-.4 1-1 1-1.7 1.4-3.2 1.3-3.5 1-3.7 .7-3.5 1.6-9.3 1.2-9.9 3.2-28.2 1.8-12.7 .8-4 .7-2.9 .7-1.5 .6-.3 .4 .4 .3 .4 .5 1.4 1 4.7 1 7.3 1.2 12.4 2 25.5 5.6 79.3 1.7 21.7 1.7 18.4 1.6 12.8 1.7 11.6 1.7 8.5 1.8 6.3 1 2.8 1 2.3 1.2 2.3 1.3 1.9 1.5 1.7 1.5 1.3 1.7 1.2 1.8 .7 2.5 .4 2.7 .1 2.6-.2 3.2-.7 12.8 .7 16.7 .4" fill="none" stroke="#777" stroke-width="1.0" stroke-linejoin="round"/>
<path d="M700.1 724.4h0m2.5-2.2h0m2.4 .4h0m2.1-.1h0m2.5 0h0m2.6 .9h0m2.4 .5h0m2.4-1.4h0m2.2-.5h0m2.5 .5h0m2.2 2.5h0m2.6-2.1h0m2.3-8.3h0m2.5 8.8h0m2.4 3h0m2.3-6.7h0m2.3-.5h0m2.7 5.9h0m2.4 .1h0m2.5-1.1h0m2.2 4.1h0m2.2-3.5h0m2.4 .4h0m2.8-1.4h0m2.3 4.1h0m2.2-1.4h0m2.5-.7h0m2.3-3.6h0m2.6 9.7h0m2.4-7.5h0m2.5 1.7h0m2.3 4.1h0m2.3-6.1h0m2.6 1.9h0m2.2-5.4h0m2.5 5.4h0m2.2-.8h0m2.4-1.3h0m2.5 .8h0m2.3-1.1h0m2.6 4.2h0m2.3 6h0m2.6-4.7h0m2.2-3h0m2.4-2.3h0m2.4-3.5h0m2.3 8.1h0m2.4 0h0m2.7-4.8h0m2.3 1.4h0m2.4 .6h0m2.3 0h0m2.3-.9h0m2.6 .5h0m2.3 4.2h0m2.5-3.7h0m2.1 1.6h0m2.5-1h0m2.6-1.7h0m2.5 .1h0m2.1-.2h0m2.7-1.9h0m2.3-9h0m2.2-1.1h0m2.3-4.7h0m2.8-8h0m2.3-8.6h0m2.4-8.4h0m2.3-15.1h0m2.2-9.9h0m2.6-13.6h0m2.5-14.4h0m2.2-13.1h0m2.7-5.6h0m2.3-16.3h0m2.1 2.1h0m2.5-1.7h0m2.7 .3h0m2.3 1.8h0m2.4 .2h0m2.2 0h0m2.7-5.4h0m2.3-6.4h0m2.3-17.2h0m2.5-18.7h0m2.2-14.7h0m2.7-19.8h0m2-4.5h0m2.5 12.5h0m2.6 26h0m2.3 28.8h0m2.6 44.6h0m2.3 28.1h0m2.4 26.6h0m2.2 22.9h0m2.5 12.8h0m2.3 12.4h0m2.4 5.7h0m2.3 2h0m2.5-1.6h0m2.6 8.5h0m2.3-5.4h0m2.3 2.9h0m2.4 0h0m2.4-1.4h0m2.3 .8h0m2.5-3h0m2.5 4.4h0m2.6-5.7h0m2.3 2h0m2.2 2.6h0m2.5 3.4h0m2.3-2.7h0m2.3-2.6h0m2.4 .2h0m2.6 3.4h0m2.4 1.8h0m2.3-5.2h0" fill="none" stroke="#000" stroke-width="1.9" stroke-linecap="square"/>
</g>
<clipPath id="c_bS2"><rect x="982.1" y="464.9" width="281.9" height="282.0"/></clipPath>
<g clip-path="url(#c_bS2)">
<path d="M982.1 683l33 2.7 56 3.9 25 2.1 14.3 1.3 13.2 1.5 12.5 1.7 12 1.8 6 1.2 6.7 1.9 7.3 2.5 12.3 4.5 6 2.6 14.7 7.4 4 1.7 3.7 1.2 17.8 4.2 7.2 1.5 6.6 1.2 6.4 .9 6 .7 5.8 .4 5.5 .1" fill="none" stroke="#707070" stroke-width="1.4" stroke-linejoin="round"/>
<path d="M982.1 671.4l2 2.5 2 2.1 2 1.9 2.3 1.6 2.2 1.3 2.5 1.1 2.7 .9 3 .8 6.8 1 10.5 1 59.5 4.5 26 2.2 12.2 1.3 11.6 1.4 11.2 1.5 10.2 1.6 6 1.3 6.6 1.9 7 2.4 12.2 4.5 6 2.6 14.5 7.3 4 1.6 3.7 1.3 17.8 4.2 7.2 1.5 6.6 1.2 6.4 .9 6 .7 5.8 .4 5.5 .1" fill="none" stroke="#6a6a6a" stroke-width="1.1" stroke-linejoin="round"/>
<path d="M982.1 682.8l12.3 .8 9 .4 7.2-.1 6.5-.5 6.3-.9 6.2-1.5 5.8-1.7 12.4-4.3 3.3-1 3-.7 3.5-.5 3.2-.2 3.3 .1 3.7 .4 5.6 1.3 6 1.9 5.7 2.3 18 7.6 6.3 2.3 6 1.9 6.4 1.8 7 1.7 23 4.5 5.3 1.4 6 1.9 7.3 2.6 12 4.5 5 2.3 13.2 6.7 4 1.7 3.8 1.3 18 4.3 7.2 1.5 6.8 1.2 6.4 1 6 .6 5.8 .4 5.5 .2" fill="none" stroke="#6a6a6a" stroke-width="1.1" stroke-linejoin="round"/>
<path d="M982.1 682.7l18.3 1.1 10.7 .3 5-.2 4.7-.4 4.3-.5 4.3-.8 4-1 3.7-1.2 3.7-1.5 3.8-1.6 7-3.7 14.5-8.5 3.7-1.9 3.3-1.5 3.7-1.2 3.6-.7 3.4-.3 3.3 .3 2.3 .5 2.2 .9 2.2 1.1 2.6 1.6 2.4 1.8 2.8 2.2 13 11.8 3.2 2.7 3.3 2.5 3.7 2.6 3.8 2.3 3.8 1.9 4 1.8 6.2 2.1 10.2 2.9 7 2.2 7.3 2.6 13.3 5 6 2.6 14.4 7.3 4 1.7 3.6 1.2 18 4.4 7.2 1.5 6.8 1.2 6.4 1 6 .6 5.8 .4 5.5 .1" fill="none" stroke="#6a6a6a" stroke-width="1.1" stroke-linejoin="round"/>
<path d="M982.1 682.9l38.3 3.1 80.7 5.4 6.5 .3 5.2 .1 4.6-.1 4-.4 4.4-.9 4-1.2 3.8-1.7 3.8-2.2 3.7-2.8 3.7-3.4 3.6-3.6 10.2-11.1 3-2.9 2.5-2.2 3-2 2.7-1.3 1.6-.4 1.2-.2 1.2-.1 1.3 .2 1.3 .3 1.4 .5 1.6 .8 1.4 1 2.8 2.4 2.8 3.1 2.4 3.3 3 4.6 11.8 19.9 2.8 4.3 2.4 3.7 4 5.3 3.8 4.4 3.5 3.7 3.7 3.4 4 3 4.3 2.7 4.5 2.2 4.8 1.8 5.2 1.4 5.5 1.1 6 .7 6 .3" fill="none" stroke="#6a6a6a" stroke-width="1.1" stroke-linejoin="round"/>
<path d="M982.1 682.9l36.5 2.9 69.5 4.8 16 1.3 30.3 2.8 4.7 .1 4-.1 3.5-.4 3.2-.8 2.3-.8 2.3-1 2-1.3 2-1.5 2-1.9 1.7-2 1.7-2.4 1.8-2.7 1.8-3 1.7-3.5 3.5-7.9 3.5-9 7.3-20 2.2-5.7 2-4.3 2.2-4.1 1.3-1.8 1-1.1 1.3-1.1 1-.6 1-.2 1 0 1.2 .5 1.2 .8 1.3 1.1 1.5 1.8 1.2 1.7 1.6 2.5 3 5.9 2.7 6.4 2.7 7 10.6 29.7 4.7 12.6 2.5 6 2.5 5.5 2.5 4.9 2.5 4.3 2.7 4.2 3 3.8 3 3.1 3 2.5 3.3 2.1 3.3 1.6 3.7 1.3 4 .9" fill="none" stroke="#6a6a6a" stroke-width="1.1" stroke-linejoin="round"/>
<path d="M982.1 670.7l2.5 3 2.8 2.6 2.7 1.9 3.3 1.6 2.4 .8 3.6 .9 5.4 1.6 2.3 .5 1.5 .1 1.5 0 1.7-.2 1.8-.4 3.5-1.1 4-1.9 8.3-4.6 4-2.5 3.2-2.4 3.5-2.8 10.7-9.4 4.3-3.5 4-3 3.3-2.1 4.2-2 2.2-.8 2-.6 4-.6 2-.1 2.3 0 3.7 .6 3.8 1 3 1.5 3.2 2.2 3.3 2.7 3.7 3.7 11.3 12.2 3.7 3.8 3.8 3.3 4 2.9 2 1.1 1.8 .8 1.7 .5 1.7 .4 1.6 .1 1.7-.2 1.7-.4 1.8-.7 2-1 2-1.4 2-1.6 1.8-1.8 1.4-1.7 1.6-2 1.7-2.8 1.7-3 3.3-6.3 5-10.5 3.5-7.6 3-7 4-10.3 9-25.4 2.2-5.8 2-4.6 1.6-2.9 1.2-2.1 1.2-1.7 1.3-1.4 1.3-1.1 1.2-.6 1-.2 1.2 .1 1.6 .7 1.2 1 1.2 1.5 1.6 2.4 1.4 2.9 1.6 3.3 3.2 8.6 2.8 8.4 3 10.2 2.2 8.7 6 24.6 1.8 6.6 2.2 7.7 2.8 8.7 2.7 7.8 3 7.8 2.7 6.3 3 5.9 3.6 6 3.7 5.6 3.5 4.4 3 3.1 5.2 5 2.6 2.2 1.4 1 1.6 .8 1.2 .5 1.5 .2" fill="none" stroke="#000" stroke-width="1.9" stroke-linejoin="round"/>
<path d="M982.7 670.2h0m1.8 2.3h0m1.8-19.7h0m1.9-1.2h0m1.7 12.5h0m2 8.2h0m2-2h0m1.7 26.5h0m1.8-39.3h0m1.9 32.1h0m1.7 21.7h0m1.9-10.9h0m2-40.1h0m1.8-35.9h0m1.6 76.2h0m2.2-7h0m1.7-21.8h0m1.7 36.9h0m1.9-34.3h0m2.1 9.4h0m1.8-23.7h0m1.7 26.3h0m1.8-16h0m2.1-2.6h0m1.6 30.7h0m2-18.4h0m1.9-35.3h0m1.9 42.4h0m1.8 1.7h0m1.6-34.5h0m2 7.2h0m2 7.3h0m1.6-7.4h0m1.8 5.9h0m1.8 8.9h0m2.2-24.7h0m1.9 49.7h0m1.6-57.3h0m1.8 2h0m1.9 48.6h0m1.8 6.9h0m1.9-48.4h0m1.9-5.8h0m1.9-18.8h0m1.6 43.4h0m2.2-20.4h0m1.8-21.1h0m1.8 24.5h0m1.9 18.8h0m1.6-14h0m2 30.2h0m1.8-21h0m2-14.4h0m1.9-9.2h0m1.5 11.9h0m1.9 13.7h0m1.9-6.6h0m2 4.8h0m1.9-15.6h0m1.8 12h0m1.8 10.4h0m1.7-26.2h0m2-20.8h0m1.8 62.2h0m1.7-21.1h0m2.2-18.1h0m1.8 15.5h0m1.8-7.7h0m1.7-27.3h0m2 32.6h0m1.7-22.9h0m2 34.6h0m1.6-4.7h0m2.1 26.7h0m1.8-23.7h0m2 11.3h0m1.7-12.3h0m2-.6h0m1.6-19.7h0m2 48.3h0m1.7-16.1h0m2.1-15.2h0m1.9 15.4h0m1.5-12.9h0m2-7.2h0m1.7 18.5h0m2 17.7h0m2-31.5h0m1.6-24.8h0m2 13.5h0m1.8 45.5h0m2-55.8h0m1.7 36.9h0m2-32.6h0m1.7 15.9h0m2-21h0m1.8-33.4h0m1.8 19.4h0m1.7 46.6h0m2-49.5h0m1.9 9.1h0m1.9-22.9h0m1.8-1h0m1.7 4h0m1.7-1.9h0m1.9 29.7h0m2.1-50.4h0m1.7-7.8h0m2-14.2h0m1.8-16.6h0m1.8-8.9h0m1.7 43.3h0m2.1-52.1h0m1.7 64.9h0m2-10.7h0m1.6-22h0m2.2-14.4h0m1.5 26.2h0m2 4h0m2 27h0m1.6-32.9h0m2 13.3h0m1.8 12.2h0m2 2.7h0m1.6-1.2h0m1.8-14.2h0m2 9.8h0m1.9 27.1h0m1.8 16.1h0m1.7 30.6h0m2 32.8h0m1.7-6.6h0m2.1-20.3h0m1.7 34.4h0m2.1-34.4h0m1.6-4.3h0m1.7 60.5h0m1.9-63.8h0m1.9 16.7h0m1.9 6.1h0m2.1 37.8h0m1.8-38.5h0m1.6 29.8h0m1.9-21.5h0m1.7-14.3h0m1.9 31h0m2.1 .6h0m1.6-24.9h0m2.1 7.8h0m1.7 2.9h0m2 36.5h0m1.8-9.2h0m1.6-4.1h0" fill="none" stroke="#000" stroke-width="2.3" stroke-linecap="square"/>
</g>
<clipPath id="c_bO3"><rect x="699.6" y="746.9" width="282.5" height="284.4"/></clipPath>
<g clip-path="url(#c_bO3)">
<path d="M699.6 996l55 1.3 39.5 .7 7.3 0 5-.2 4-.4 3.2-.7 3.2-1.1 2.8-1.5 2.8-2.1 2.4-2.6 2.6-3.2 2.7-4.3 2.5-4.5 6-11.4 3-4.9 1.8-2.3 1.4-1.4 1-.6 .8-.4 1.5-.2 2 .4 2.3 1 2.2 1.7 2.5 2.4 2 2.4 2.3 3 8 11.5 3.2 4.4 3.2 4 3.3 3.4 3 2.6 3 2.2 3.3 1.8 3.4 1.4 3.8 1.1 4.2 .8 5.6 .6 7 .4 12.7 .4 18.7 .4 38.3 .3" fill="none" stroke="#777" stroke-width="1.4" stroke-linejoin="round"/>
<path d="M699.6 995.9l39.5 .9 33.5 .7 24.8 .2 17.2-.2 8.5-.4 2.7-.4 2.6-.5 2-.6 2-1 1.7-1.2 1.5-1.3 1.8-2.1 1.4-2.3 1.6-3 1.4-3.7 1.6-4.5 1.2-4.5 1.2-5.2 1.3-6 2.5-14.2 2.5-17.1 2.5-19.6 5.5-46 1.5-11.5 1.5-10.2 1.5-8.4 1.5-6.3 .7-2.3 .8-1.6 .8-1 .7-.3 .5 .3 .5 .8 .5 1.2 .8 2.8 1.2 6.8 1.2 9.3 2.3 21.1 4.3 45.9 2 20.3 2 17.7 1.7 12.9 2 11.8 2 8.8 1 3.5 1.3 3.5 1 2.2 1.2 2.3 1 1.4 1.2 1.4 1.3 1 1.5 .9 1.5 .7 2 .5 2.3 .5 3 .4 11.4 .7 17 .7 21.6 .4 23.7 .2" fill="none" stroke="#777" stroke-width="1.4" stroke-linejoin="round"/>
<path d="M699.6 995.8l39.5 1 32 .5 23.3 0 6-.1 3.7-.3 4.3-.5 3.2-.7 2.8-.9 2.7-1.3 2.3-1.5 2-1.6 6.2-6.6 2.2-3 1.8-3.1 2-4.5 1.2-3.8 1.6-5.9 3-13.6 5-24.8 4.4-17.4 2.6-13 2-12.3 6.7-50.4 1.5-10.3 1.5-9.2 1.5-7.5 1.2-4.6 .8-1.8 .5-.9 .7-.8 .6-.2 .7 .3 .5 .7 .5 1.2 .5 1.7 1 4.9 1 6.8 .8 8.6 1.2 19.7 .8 9.5 4 39.8 3.7 40.8 1.5 13.9 1.2 10 1.8 10.6 2 8.6 1.5 5.5 1.3 4 1.2 3.2 1.5 3 1.3 2 1.2 1.6 1.5 1.5 1.5 1.1 2 1.2 2.2 1 6.3 2.1 11 .8 16.3 .7 20.7 .5 23 .2" fill="none" stroke="#111" stroke-width="1.0" stroke-linejoin="round"/>
<path d="M700.2 992.9h0m.2 2.1h0m.5-.1h0m.4 0h0m.1-.1h0m.4 1h0m.5 .4h0m.1 1.8h0m.6-.5h0m.2-1.6h0m.3-1.7h0m.4 1.4h0m.5 .6h0m.4-4.4h0m.3 4.9h0m.1-.4h0m.4 .9h0m.4-.7h0m.2-.6h0m.5 .6h0m.4 .1h0m.4-1.1h0m.2 1h0m.3-1.8h0m.5 1.6h0m.2-.9h0m.3-.6h0m.6 .2h0m.2 .6h0m.3 1.4h0m.4-.3h0m.5-1.5h0m.2 1h0m.5-.2h0m.4-1.1h0m.2 .4h0m.6-.8h0m.3 3.6h0m.1-4.1h0m.3 1.5h0m.3-.1h0m.6 .2h0m.2-.1h0m.4 1.7h0m.2-1.3h0m.7 .5h0m.3-.8h0m.3 1.4h0m.4-.2h0m.2 .3h0m.3-1.7h0m.3 .2h0m.5 .3h0m.5 .4h0m0-.1h0m.4 1h0m.5 .3h0m.2 .3h0m.4-.6h0m.6-1.2h0m.1 0h0m.4-2h0m.3 3.5h0m.3-.8h0m.6 0h0m.4-1.7h0m.2 3.5h0m.3-2.3h0m.3 .1h0m.5 1.1h0m.4-1.1h0m.4-.5h0m.1 1.2h0m.3-1.4h0m.4 1.3h0m.4-.3h0m.5 .8h0m.1-1.9h0m.4 2h0m.3-.8h0m.6 1.4h0m.3-2.1h0m.4 2.1h0m.2-1h0m.4 .1h0m.5-1.2h0m0 .9h0m.7 .2h0m.3-1.2h0m.2-.3h0m.5 .3h0m.4 4.5h0m.1-3.7h0m.6 .7h0m.4-.5h0m.1-.9h0m.6 .8h0m.2-.5h0m.3 3h0m.5-2.5h0m.4 1.6h0m.1-2.9h0m.2 1.4h0m.7-.8h0m.2 .2h0m.4 1.3h0m.3-1.8h0m.5 .8h0m.2-3h0m.4 4.1h0m.4-1.4h0m.1 .7h0m.5 0h0m.4-1.2h0m.1-.8h0m.4 2.2h0m.3 .1h0m.5-.4h0m.5-1.2h0m.1 2.7h0m.6-.3h0m.1-2.7h0m.4 1.4h0m.3 1.8h0m.7-2.4h0m0 .8h0m.6-.8h0m.3 .1h0m.2-.2h0m.4 .6h0m.3-.3h0m.5 .8h0m.4-.1h0m.2-.9h0m.5 2.3h0m.4-2.5h0m.3 1.2h0m.4 1.5h0m.2-2.4h0m.2 1.1h0m.5 .7h0m.3-.9h0m.3-1.8h0m.5-.3h0m.3 1.9h0m.4-1.6h0m.2 2.6h0m.3-1.6h0m.3 1.5h0m.7-1.3h0m.3 .8h0m.2-1.3h0m.2 .6h0m.5-.4h0m.5 .2h0m.4 .7h0m.1-.5h0m.6 .5h0m.1 .9h0m.3-1.1h0m.4 .4h0m.3-.6h0m.4 .3h0m.6 .8h0m.2 0h0m.5 0h0m0-1h0m.6 .7h0m.2-1.7h0m.4 2.3h0m.6-.7h0m.2 0h0m.4-.7h0m.3 .4h0m.2-.6h0m.5 1h0m.3 2.1h0m.5-1.7h0m.3-.4h0m.4 .2h0m.3-.7h0m.4 0h0m0 .2h0m.4-.1h0m.5-.1h0m.5 1.8h0m.2-2.6h0m.4 .4h0m.4 .3h0m.3-.8h0m.1 .1h0m.5-.9h0m.5 2.4h0m.4-.7h0m0 .7h0m.7-2.3h0m.2 2.4h0m.3-1h0m.4 0h0m.5-1.2h0m.4 1h0m.1 .9h0m.5-1.1h0m.1 3.5h0m.6-1.6h0m.1-1.4h0m.6 1h0m.2-1.9h0m.3-.9h0m.3 1.8h0m.7-2.1h0m0 2.3h0m.5 2h0m.2-4.4h0m.5 2.7h0m.5 0h0m.1 .4h0m.5-.4h0m.2-.4h0m.3-.2h0m.6 .1h0m.2 1.5h0m.5-1.9h0m.4-.6h0m.3 .7h0m.2-.7h0m.4 3h0m.4-3.7h0m.2 3.2h0m.6 0h0m.1-.7h0m.3 0h0m.5-1h0m.3 .5h0m.3-.4h0m.4 .5h0m.3-.6h0m.6 1.6h0m.2-.4h0m.4-.7h0m.2-1.3h0m.6 3.6h0m.1-1.5h0m.5-.8h0m.4 1.2h0m.3-.8h0m.2 .5h0m.5-2.4h0m.4 2h0m.1-.5h0m.4 .1h0m.3 1.4h0m.3-1.4h0m.6 .4h0m.5-.8h0m.1 .6h0m.6 1.7h0m.1-.8h0m.6-1.4h0m0-.1h0m.4 .4h0m.6-1h0m.4 1.1h0m.3 .8h0m.3-1.2h0m.2-1.1h0m.6 2.4h0m.2-1.1h0m.4-.6h0m.2 .1h0m.6 0h0m.2 0h0m.4-.7h0m.1 2.2h0m.5-.7h0m.2 .5h0m.4-1.1h0m.5 .6h0m.2-.2h0m.3 .8h0m.5-.3h0m.5-.3h0m.2-.9h0m.5-.4h0m.2 .3h0m.4 .1h0m.2-1.2h0m.3 .7h0m.6 2.3h0m.3-1.1h0m.4-1.9h0m.4 .7h0m.3-.2h0m.2 1.3h0m.3 .6h0m.3-.8h0m.5 .4h0m.4-1.8h0m.4 2.1h0m.4 .2h0m.3-.9h0m.3 .3h0m.2-.6h0m.5-.4h0m.2-.7h0m.6 1.2h0m.1-.4h0m.4-.3h0m.3 .2h0m.3-.1h0m.6-.8h0m.1 .4h0m.4 1.3h0m.3-1.2h0m.7 1.2h0m.3-2.1h0m.2-.2h0m.5 1h0m.1 .5h0m.4-1.2h0m.4 .9h0m.2 .2h0m.7-.1h0m.3-1.1h0m0 .1h0m.5-1.5h0m.4 1.2h0m.5 0h0m.4 .8h0m0 .2h0m.7-4.9h0m.2 4h0m.3-.3h0m.3-3h0m.5 2.6h0m.1 1.1h0m.5-2.6h0m.2-.8h0m.5 .7h0m.5 .4h0m.3-.5h0m.1-.7h0m.4-.8h0m.5-2.1h0m.2 2.2h0m.3 .5h0m.6-1h0m.1-1.7h0m.7 1.9h0m.2-1.8h0m.3 .5h0m.3 1.1h0m.4-2.4h0m.5-.9h0m.2-.3h0m.2 .5h0m.5-1.4h0m.3 1.9h0m.6-1h0m0-2.1h0m.5 1.6h0m.2-1.4h0m.4 1h0m.5-3h0m.3 1.8h0m.5-2.2h0m.1 1.3h0m.4-1.9h0m.2 .9h0m.6-1.8h0m.1-1.4h0m.7-.3h0m.2 .3h0m.4-.4h0m.2-2.3h0m.4 .1h0m.5-.6h0m.4-.2h0m.2-.1h0m.5-2h0m.2-1h0m.2 .9h0m.4-1.6h0m.4-.2h0m.4-2.2h0m.2 .1h0m.6-5h0m.1 .9h0m.6-1.1h0m.3-1h0m.4-.5h0m.4-1.3h0m.3-4.2h0m.3-.8h0m.4-1.1h0m.3 .6h0m.5-4.9h0m.3-.7h0m.1-.9h0m.3-.8h0m.5-2.8h0m.5-2.2h0m.1-.8h0m.3-2.4h0m.7-4h0m.2-1.9h0m.3 .2h0m.2-1.2h0m.3-3.3h0m.5-1.3h0m.3 1.4h0m.6-5.7h0m.2-.2h0m.4-3.1h0m.3-.4h0m.3-.3h0m.3-3.4h0m.5-.4h0m.4-1h0m.4-1.9h0m.2 .7h0m.2-1.3h0m.7-3.2h0m0 0h0m.4-.2h0m.5-1.2h0m.4-5.2h0m.4-2h0m.2 .2h0m.3-1.6h0m.2-.8h0m.6-2.7h0m.4-3h0m.1 .1h0m.6-3.7h0m.4-3.4h0m.1-.6h0m.5-2.6h0m.3-1.7h0m.4-2.7h0m.1-1h0m.7-5.9h0m.1 1.5h0m.5-4.5h0m.2-2h0m.3-2.6h0m.7-5.9h0m.1 .1h0m.6-3.6h0m.3-3.4h0m.2-3h0m.4-1.6h0m.1-1.2h0m.7-4.2h0m.3-4.3h0m.3-2.7h0m.4-1.8h0m.2-2.7h0m.4-.1h0m.4-6h0m.3-.7h0m.4-3.2h0m.2-.5h0m.3-1.2h0m.4-2.3h0m.6-3.3h0m.4-2.6h0m.3-3.9h0m.2 1h0m.5-3.9h0m0 .8h0m.5-2h0m.6-2.1h0m.1 .5h0m.3-2h0m.4 .9h0m.5-2h0m.4-1.6h0m0 1.1h0m.6-.4h0m.4-1h0m.4 1.6h0m.4-2.2h0m.2 1.4h0m.4 .3h0m.2 .2h0m.4 1.6h0m.4 .3h0m.3 2.6h0m.3-4.6h0m.5 8.2h0m.1 1.3h0m.6 5h0m.3-.3h0m.2 2.4h0m.4 5.4h0m.5 10.5h0m.2 .8h0m.5 9.3h0m.2 2.4h0m.6 8.3h0m.1-.4h0m.6 6h0m.1 .9h0m.4 3.5h0m.2 2.2h0m.6 5.7h0m.1 1.4h0m.6 6.4h0m.2-.1h0m.5 7h0m.3 2.1h0m.5 5.6h0m.2 1.6h0m.2 3.1h0m.6 7.3h0m.4 1.8h0m.3 5.2h0m.2 2.8h0m.3 1.4h0m.2 3.4h0m.7 7.4h0m.3 3.7h0m.2 2.2h0m.4 3.1h0m.5 4.9h0m.1 1.6h0m.3 1.8h0m.3 4.5h0m.7 4.6h0m.1-.9h0m.6 5.7h0m0-.4h0m.6 3.9h0m.3 2.3h0m.3 1.7h0m.2 1.9h0m.6 2h0m.3 2.2h0m.5 .1h0m.3-.3h0m.4 4.2h0m0-.3h0m.7 2.9h0m.2 .1h0m.5 0h0m.4 4.6h0m0-.4h0m.5-.6h0m.4 1.9h0m.3 1.6h0m.5 1.8h0m0-.6h0m.6 .3h0m.3 3.8h0m.2-1.8h0m.6 2.3h0m.3-.1h0m.1 .8h0m.4 .4h0m.5 .9h0m.5 1.4h0m.3-.2h0m.3-.3h0m.3-.4h0m.5 .9h0m.2-.4h0m.2 1.4h0m.5 .7h0m.2-1.3h0m.6 2h0m.3-.5h0m.4-.4h0m.4 1.6h0m.3-.9h0m.4-.2h0m.3 1.8h0m.2 .2h0m.2-1.1h0m.5 1.6h0m.5 .2h0m.2-1.1h0m.6 2.3h0m.1-2.7h0m.5 1.5h0m.1-2.1h0m.5 2.7h0m.5-1.2h0m.4-2.9h0m0 2.5h0m.6 2.5h0m.4 .4h0m0-2.5h0m.7-.8h0m0 2.9h0m.6 0h0m.5-2.6h0m0 1.2h0m.6 .6h0m.1 2h0m.5 .9h0m.3-1.6h0m.4-.1h0m.5 .4h0m.1-.6h0m.4-1.8h0m.2 3h0m.5-2.8h0m.2 3h0m.4 0h0m.6-1.1h0m.3 1.2h0m.1-.8h0m.6 .4h0m.4 .2h0m.2-.1h0m.3-.9h0m.3-1.1h0m.5 1.3h0m.2 .9h0m.5-.3h0m.3-.4h0m.4 .9h0m.5-.7h0m.1-1.1h0m.4 1.4h0m.4 .2h0m.3 .2h0m.5-1.3h0m.1 .1h0m.7 .9h0m.3-.6h0m.1 .3h0m.4 .9h0m.3-.4h0m.4 1.1h0m.3-1.2h0m.5 1.2h0m.4-.5h0m.1 1.2h0m.6-1.8h0m.3-.3h0m.4 1.1h0m.4-1.4h0m.2 .1h0m.5 .3h0m.4-1.2h0m.3 .2h0m.2 1.3h0m.3-.4h0m.4 .2h0m.4 .2h0m.4-.3h0m.2 1h0m.5-.4h0m.2-.5h0m.3 1.5h0m.6 .9h0m.4-1.6h0m.1 .4h0m.4-1.1h0m.2-1.5h0m.7 3.2h0m.1-1.6h0m.4-.4h0m.2 1.1h0m.4-1h0m.5-.7h0m.4 1.6h0m.4-1h0m.3 1.9h0m.3-2.7h0m.3 2.3h0m.3-.8h0m.3-.1h0m.5 .3h0m.2-.1h0m.4-.6h0m.3-1.2h0m.3 .9h0m.5-1.3h0m.3 2.7h0m.4-.3h0m.3-.3h0m.2 1.3h0m.7-2.4h0m0-1.2h0m.4 3.5h0m.3-.8h0m.7-1.6h0m.1 .9h0m.6 .9h0m.1 .7h0m.4-2.8h0m.5 3.3h0m.4-.6h0m.4-1.1h0m.1 .3h0m.5-1h0m.1 .9h0m.5 .2h0m.4-1.1h0m.2-.3h0m.5 2.6h0m.2-1.4h0m.6-.9h0m0 .5h0m.6 1.5h0m.5 .1h0m.2-1.7h0m.5 .6h0m.3 .6h0m.3-1h0m.4-.7h0m.3 .2h0m.3 .8h0m.4 .5h0m.4-1.5h0m.3 .8h0m.1 1h0m.3-1.9h0m.5 1h0m.5 1.7h0m.2-2.2h0m.4 1.5h0m.2-1.9h0m.5 1.7h0m.5-.7h0m.2-1.3h0m.2 .7h0m.6 2.1h0m.2-.8h0m.3-.5h0m.3 .6h0m.6-1.9h0m.1 2.2h0m.6-2h0m.1 .4h0m.6 2.1h0m.2-1h0m.3 .9h0m.4-.6h0m.3 1.4h0m.3-2.5h0m.6 .4h0m.4 .4h0m.1-1.1h0m.4-1.7h0m.6 3.7h0m.2-2h0m.5 1.1h0m.1 .6h0m.5-.1h0m.3-2.7h0m.4 1.9h0m.2 1.4h0m.3-2.9h0m.4 1.1h0m.3 .6h0m.3 .6h0m.5 .5h0m.5-1.6h0m.1-.7h0m.5-1h0m.4 .2h0m.1 1.1h0m.4 1.2h0m.4-1.1h0m.5 .1h0m.4-.8h0m0-.6h0m.6 .5h0m.1 1.9h0m.5-2.1h0m.4 3.5h0m.3-2.6h0m.4 1.1h0m.3-.2h0m.4 .4h0m.3-1.9h0m.4 .7h0m.2-.2h0m.5 .4h0m.4-.2h0m.1 1.1h0m.7-.6h0m.1 .1h0m.6 .3h0m.1-.7h0m.3 1.3h0m.6-2.4h0m.3 1.7h0m.2-1.8h0m.4 1h0m.5 .1h0m.3 1.2h0m.2-.9h0m.3-1.3h0m.5 .4h0m.2 1.7h0m.4-1.5h0m.6 2h0m.3 0h0m.1-1.2h0m.5 .5h0m.3-1h0" fill="none" stroke="#000" stroke-width="2.0" stroke-linecap="round"/>
</g>
<clipPath id="c_bS3"><rect x="982.1" y="746.9" width="281.9" height="284.4"/></clipPath>
<g clip-path="url(#c_bS3)">
<path d="M982.1 989.1l20.3 1 5 .1 3.2-.3 1.5-.3 1.5-.5 1.2-.6 1-.7 1-.8 1-1.1 1.8-2.5 1.5-3 1.5-3.9 1.5-5 1.5-6.1 1.5-7.2 1.5-8.3 5.8-36.8 2.2-12.5 1.2-5.4 1-3.2 .8-1.7 .5-.8 .5-.4 .5-.1 .5 .1 .5 .5 .5 .7 .8 1.6 1.2 3.9 1.2 5.3 2.3 12.2 4.7 29.9 2 11.6 2.3 11.2 2 8.1 1 3.3 1.3 3.6 1.2 2.9 1.2 2.4 1.3 1.9 1.5 1.7 1.8 1.5 1.7 1.1 1.7 .7 2 .5 2.6 .5 3.2 .3 10.2 .6 15 .5 31.8 .6 41.2 .5 43.3 .3 43 .1" fill="none" stroke="#6a6a6a" stroke-width="1.1" stroke-linejoin="round"/>
<path d="M982.1 989l18.5 1.1 13.2 .6 9 .2 3-.2 2.6-.2 2-.4 1.7-.6 1.5-.8 1.5-1.1 1.3-1.3 1.2-1.7 1-1.8 1-2.2 1-2.6 1-3.2 2-8.3 1.8-9.6 1.7-12.1 1.7-14.6 2-19.7 6-68.4 2.3-22.7 1.3-10.1 1.2-7.7 .8-3.3 .4-1.6 .8-1.4 .5-.4 .5 .2 .8 1.1 .4 1.3 .8 2.6 1.2 6.5 1.6 10.8 2.4 23.1 5 54.2 2.3 22.9 2.3 19.8 2.2 16.3 1.2 7.5 1.3 6.3 1.3 5.4 1.2 4.5 1.5 4.3 1.5 3.3 1.5 2.5 1.7 2.1 1.8 1.5 1.8 1.1 2 .8 2.4 .6 3 .5 3.8 .4 12 .7 22.8 .7 32.4 .6 42 .4 45.3 .1" fill="none" stroke="#6a6a6a" stroke-width="1.1" stroke-linejoin="round"/>
<path d="M982.1 989.4l34.5 2.6 24 1.6 21.8 1.1 19.7 .8 14.7 .2 5.3-.1 4.5-.3 3.8-.4 3.4-.5 12.6-2.5 2.7-.3 2.7-.1 6.6 .2 6.7 .4 31.7 3 9.3 .7 9.3 .5 11.2 .3 13.5 .3 44 .2" fill="none" stroke="#6a6a6a" stroke-width="1.1" stroke-linejoin="round"/>
<path d="M982.1 989.4l48.5 3.5 18 1.1 16.5 .9 26 .8 47 .6 13-.1 4.3-.1 3.7-.4 3.3-.4 3.2-.7 12-3.1 3-.4 3-.1 2.8 .2 3.2 .6 10.2 2.7 4.3 .9 4 .7 4.5 .4 5.5 .3 7.7 .1 38.3 .2" fill="none" stroke="#6a6a6a" stroke-width="1.1" stroke-linejoin="round"/>
<path d="M982.1 989.4l52.3 3.8 19.4 1.1 17.8 .8 24 .7 44.8 .5 26.2 .2 5-.1 4-.2 3.2-.4 3-.6 2.8-.7 2.8-1 8-3.7 2.7-1 3-.8 2.7-.1 4 .3 4.6 .8 4.2 1.1 13 3.5 4.5 1 4.5 .8 5.2 .7 5.6 .4 6.4 .3 8.3 .1" fill="none" stroke="#6a6a6a" stroke-width="1.1" stroke-linejoin="round"/>
<path d="M982.1 988.6l12.3 .6 8.7 .2 5.3-.1 3.4-.6 1.6-.5 1.4-.8 1.3-.8 1.3-1.2 1.2-1.5 1-1.5 1-1.9 1-2.2 1.5-4.4 1.5-5.5 1.5-7 1.5-8.1 3.8-23.8 4.7-34.5 1.5-9.1 1.2-6.5 1.6-6.3 1.7-5.3 1.5-3.4 3-5.2 1.8-3.5 1.2-3.1 1.2-4.3 1.3-5.5 1.3-6.9 4.7-32.2 1.7-10.4 1-4.6 .8-2.6 .8-1.7 .4-.6 .3-.1 .5 .3 .8 1.6 1.2 5.1 2 11.8 1.5 11.3 1.3 11.3 4 39.2 4.7 49.8 3.7 33.8 1.8 13.6 .8 4.6 1 4.9 1.2 5.2 1.2 4.3 1.3 3.4 1.3 2.8 1.2 2.2 1.2 1.6 1.6 1.3 1.7 1 2.3 .7 2.4 .3 4-.3 8.3-1.4 6.3-.8 4.2-.4 3.5-.2 3 0 5.7 .2 17.6 1 6.7 0 3.7-.3 3.8-.6 13-3 10.5-2 4.3-.6 3.2-.1 2.2 .2 2.8 .5 7.2 1.7 6.3 1.7 6 1.8 8.3 3.2 3.4 .9 5.8 .9 6.2 .6 7.3 .2 9 .1" fill="none" stroke="#111" stroke-width="1.4" stroke-linejoin="round"/>
<path d="M982.5 988.4h0m1.5-1.3h0m1.9 .8h0m1.7 .5h0m1.5-1.1h0m1.7 1.3h0m1.5-3.7h0m1.5 0h0m1.6 1.9h0m1.5-1.2h0m1.9 7.1h0m1.6-4.5h0m1.6 2.6h0m1.3-7.2h0m1.8 4.6h0m1.5-1.2h0m1.7 .5h0m1.5 3.5h0m1.4-3.7h0m1.7 .2h0m1.6 3.1h0m1.6-4.1h0m1.6-1.9h0m1.5-1.9h0m1.8-1.9h0m1.8-8.1h0m1.4-2h0m1.5-6.5h0m1.9-8h0m1.6-15.4h0m1.6-7.4h0m1.2-4.8h0m1.9-18h0m1.4-9.4h0m1.8-9.4h0m1.4-6.5h0m1.6-16.7h0m1.9-1.8h0m1.5-8.2h0m1.6 2.5h0m1.5-3.4h0m1.6-8.4h0m1.7 2.8h0m1.5-13.7h0m1.6 .6h0m1.5-10.5h0m1.8-14.3h0m1.4-6.6h0m1.7-11.7h0m1.5-8.4h0m1.9-4h0m1.4 2.3h0m1.5 6.3h0m1.5 8h0m1.9 15.2h0m1.7 15.8h0m1.3 10.8h0m1.7 17.3h0m1.6 14.2h0m1.6 18.8h0m1.7 18.6h0m1.6 16.1h0m1.6 13.2h0m1.4 11.3h0m1.7 9.8h0m1.5 10.6h0m1.6 3.9h0m1.6 7.1h0m1.7 3.3h0m1.6 .7h0m1.4 4.5h0m1.8-.9h0m1.5 2h0m1.6-1.6h0m1.8 1.9h0m1.6 .7h0m1.4-1.9h0m1.8 1.6h0m1.7-2.7h0m1.5 .3h0m1.4-2.9h0m1.8 2.8h0m1.5-1.9h0m1.6-3.4h0m1.5 1.4h0m1.6 1.9h0m1.9 1.5h0m1.4 4.8h0m1.5-.4h0m1.7-6.9h0m1.6 6.4h0m1.5-3.2h0m1.8-1.1h0m1.6 6.5h0m1.6-8.3h0m1.6 2.6h0m1.7-.5h0m1.6 .5h0m1.5 1h0m1.7-1.5h0m1.6 1.4h0m1.3-4.5h0m1.7 7.6h0m1.6-4.1h0m1.6-1.2h0m1.4-1.6h0m1.8 1.4h0m1.7-5h0m1.5 5.5h0m1.7 1.6h0m1.6 .8h0m1.6-3.3h0m1.3 .7h0m1.8-4.5h0m1.7 9.4h0m1.4-5.3h0m1.9 2h0m1.6-.6h0m1.4-.6h0m1.8-5.6h0m1.3 4.4h0m1.7-1.4h0m1.8-1.8h0m1.2 2.5h0m1.8-1.1h0m1.6 3.8h0m1.6-1.8h0m1.6 .5h0m1.6-4.7h0m1.8-1.1h0m1.2 1.8h0m1.7-1.4h0m1.8 3.8h0m1.5-8.7h0m1.7 5.1h0m1.6 .7h0m1.6 2.2h0m1.4-3.7h0m1.6 2.8h0m1.7 .1h0m1.4 1.4h0m1.8-1.1h0m1.6 .7h0m1.6-4.2h0m1.7 4h0m1.3 1.8h0m1.6-1.9h0m2-.8h0m1.5 1.3h0m1.3 1.1h0m1.9 .8h0m1.5-.5h0m1.5 3.7h0m1.7 .3h0m1.6-1.6h0m1.6 .2h0m1.5 .8h0m1.5 .8h0m1.6 .6h0m1.7-2.9h0m1.6 2.3h0m1.6-2.4h0m1.6 3.6h0m1.5 5.2h0m1.8-6.9h0m1.5 7.8h0m1.6-6.9h0m1.7 6.7h0m1.7-2h0m1.6-1.9h0m1.4-3.7h0m1.5 1.4h0m1.8-1.8h0m1.4 2.7h0m1.9 .7h0m1.4-2.4h0" fill="none" stroke="#000" stroke-width="1.8" stroke-linecap="square"/>
</g>
<line x1="326.22" y1="462.8" x2="326.22" y2="465.4" stroke="#222" stroke-width="1.2"/>
<line x1="308.54" y1="462.8" x2="308.54" y2="465.4" stroke="#222" stroke-width="1.2"/>
<line x1="290.86" y1="462.8" x2="290.86" y2="465.4" stroke="#222" stroke-width="1.2"/>
<line x1="273.17" y1="461.1" x2="273.17" y2="469.9" stroke="#222" stroke-width="1.3"/>
<line x1="255.49" y1="462.8" x2="255.49" y2="465.4" stroke="#222" stroke-width="1.2"/>
<line x1="237.81" y1="462.8" x2="237.81" y2="465.4" stroke="#222" stroke-width="1.2"/>
<line x1="220.13" y1="462.8" x2="220.13" y2="465.4" stroke="#222" stroke-width="1.2"/>
<line x1="202.45" y1="462.8" x2="202.45" y2="465.4" stroke="#222" stroke-width="1.2"/>
<line x1="184.77" y1="461.1" x2="184.77" y2="469.9" stroke="#222" stroke-width="1.3"/>
<line x1="167.09" y1="462.8" x2="167.09" y2="465.4" stroke="#222" stroke-width="1.2"/>
<line x1="149.41" y1="462.8" x2="149.41" y2="465.4" stroke="#222" stroke-width="1.2"/>
<line x1="131.72" y1="462.8" x2="131.72" y2="465.4" stroke="#222" stroke-width="1.2"/>
<line x1="114.04" y1="462.8" x2="114.04" y2="465.4" stroke="#222" stroke-width="1.2"/>
<line x1="96.36" y1="461.1" x2="96.36" y2="469.9" stroke="#222" stroke-width="1.3"/>
<line x1="78.68" y1="462.8" x2="78.68" y2="465.4" stroke="#222" stroke-width="1.2"/>
<line x1="326.22" y1="745.7" x2="326.22" y2="748.3" stroke="#222" stroke-width="1.2"/>
<line x1="308.54" y1="745.7" x2="308.54" y2="748.3" stroke="#222" stroke-width="1.2"/>
<line x1="290.86" y1="745.7" x2="290.86" y2="748.3" stroke="#222" stroke-width="1.2"/>
<line x1="273.17" y1="744" x2="273.17" y2="752.8" stroke="#222" stroke-width="1.3"/>
<line x1="255.49" y1="745.7" x2="255.49" y2="748.3" stroke="#222" stroke-width="1.2"/>
<line x1="237.81" y1="745.7" x2="237.81" y2="748.3" stroke="#222" stroke-width="1.2"/>
<line x1="220.13" y1="745.7" x2="220.13" y2="748.3" stroke="#222" stroke-width="1.2"/>
<line x1="202.45" y1="745.7" x2="202.45" y2="748.3" stroke="#222" stroke-width="1.2"/>
<line x1="184.77" y1="744" x2="184.77" y2="752.8" stroke="#222" stroke-width="1.3"/>
<line x1="167.09" y1="745.7" x2="167.09" y2="748.3" stroke="#222" stroke-width="1.2"/>
<line x1="149.41" y1="745.7" x2="149.41" y2="748.3" stroke="#222" stroke-width="1.2"/>
<line x1="131.72" y1="745.7" x2="131.72" y2="748.3" stroke="#222" stroke-width="1.2"/>
<line x1="114.04" y1="745.7" x2="114.04" y2="748.3" stroke="#222" stroke-width="1.2"/>
<line x1="96.36" y1="744" x2="96.36" y2="752.8" stroke="#222" stroke-width="1.3"/>
<line x1="78.68" y1="745.7" x2="78.68" y2="748.3" stroke="#222" stroke-width="1.2"/>
<line x1="326.22" y1="1028.1" x2="326.22" y2="1030.7" stroke="#222" stroke-width="1.2"/>
<line x1="308.54" y1="1028.1" x2="308.54" y2="1030.7" stroke="#222" stroke-width="1.2"/>
<line x1="290.86" y1="1028.1" x2="290.86" y2="1030.7" stroke="#222" stroke-width="1.2"/>
<line x1="273.17" y1="1026.4" x2="273.17" y2="1035.2" stroke="#222" stroke-width="1.3"/>
<line x1="255.49" y1="1028.1" x2="255.49" y2="1030.7" stroke="#222" stroke-width="1.2"/>
<line x1="237.81" y1="1028.1" x2="237.81" y2="1030.7" stroke="#222" stroke-width="1.2"/>
<line x1="220.13" y1="1028.1" x2="220.13" y2="1030.7" stroke="#222" stroke-width="1.2"/>
<line x1="202.45" y1="1028.1" x2="202.45" y2="1030.7" stroke="#222" stroke-width="1.2"/>
<line x1="184.77" y1="1026.4" x2="184.77" y2="1035.2" stroke="#222" stroke-width="1.3"/>
<line x1="167.09" y1="1028.1" x2="167.09" y2="1030.7" stroke="#222" stroke-width="1.2"/>
<line x1="149.41" y1="1028.1" x2="149.41" y2="1030.7" stroke="#222" stroke-width="1.2"/>
<line x1="131.72" y1="1028.1" x2="131.72" y2="1030.7" stroke="#222" stroke-width="1.2"/>
<line x1="114.04" y1="1028.1" x2="114.04" y2="1030.7" stroke="#222" stroke-width="1.2"/>
<line x1="96.36" y1="1026.4" x2="96.36" y2="1035.2" stroke="#222" stroke-width="1.3"/>
<line x1="78.68" y1="1028.1" x2="78.68" y2="1030.7" stroke="#222" stroke-width="1.2"/>
<text x="96.36" y="1059.3" font-size="26" text-anchor="middle" class="r">540</text>
<text x="184.77" y="1059.3" font-size="26" text-anchor="middle" class="r">535</text>
<text x="273.17" y="1059.3" font-size="26" text-anchor="middle" class="r">530</text>
<line x1="609.03" y1="462.8" x2="609.03" y2="465.4" stroke="#222" stroke-width="1.2"/>
<line x1="591.35" y1="461.1" x2="591.35" y2="469.9" stroke="#222" stroke-width="1.3"/>
<line x1="573.68" y1="462.8" x2="573.68" y2="465.4" stroke="#222" stroke-width="1.2"/>
<line x1="556" y1="462.8" x2="556" y2="465.4" stroke="#222" stroke-width="1.2"/>
<line x1="538.33" y1="462.8" x2="538.33" y2="465.4" stroke="#222" stroke-width="1.2"/>
<line x1="520.65" y1="462.8" x2="520.65" y2="465.4" stroke="#222" stroke-width="1.2"/>
<line x1="502.98" y1="461.1" x2="502.98" y2="469.9" stroke="#222" stroke-width="1.3"/>
<line x1="485.3" y1="462.8" x2="485.3" y2="465.4" stroke="#222" stroke-width="1.2"/>
<line x1="467.62" y1="462.8" x2="467.62" y2="465.4" stroke="#222" stroke-width="1.2"/>
<line x1="449.95" y1="462.8" x2="449.95" y2="465.4" stroke="#222" stroke-width="1.2"/>
<line x1="432.27" y1="462.8" x2="432.27" y2="465.4" stroke="#222" stroke-width="1.2"/>
<line x1="414.6" y1="461.1" x2="414.6" y2="469.9" stroke="#222" stroke-width="1.3"/>
<line x1="396.93" y1="462.8" x2="396.93" y2="465.4" stroke="#222" stroke-width="1.2"/>
<line x1="379.25" y1="462.8" x2="379.25" y2="465.4" stroke="#222" stroke-width="1.2"/>
<line x1="361.57" y1="462.8" x2="361.57" y2="465.4" stroke="#222" stroke-width="1.2"/>
<line x1="609.03" y1="745.7" x2="609.03" y2="748.3" stroke="#222" stroke-width="1.2"/>
<line x1="591.35" y1="744" x2="591.35" y2="752.8" stroke="#222" stroke-width="1.3"/>
<line x1="573.68" y1="745.7" x2="573.68" y2="748.3" stroke="#222" stroke-width="1.2"/>
<line x1="556" y1="745.7" x2="556" y2="748.3" stroke="#222" stroke-width="1.2"/>
<line x1="538.33" y1="745.7" x2="538.33" y2="748.3" stroke="#222" stroke-width="1.2"/>
<line x1="520.65" y1="745.7" x2="520.65" y2="748.3" stroke="#222" stroke-width="1.2"/>
<line x1="502.98" y1="744" x2="502.98" y2="752.8" stroke="#222" stroke-width="1.3"/>
<line x1="485.3" y1="745.7" x2="485.3" y2="748.3" stroke="#222" stroke-width="1.2"/>
<line x1="467.62" y1="745.7" x2="467.62" y2="748.3" stroke="#222" stroke-width="1.2"/>
<line x1="449.95" y1="745.7" x2="449.95" y2="748.3" stroke="#222" stroke-width="1.2"/>
<line x1="432.27" y1="745.7" x2="432.27" y2="748.3" stroke="#222" stroke-width="1.2"/>
<line x1="414.6" y1="744" x2="414.6" y2="752.8" stroke="#222" stroke-width="1.3"/>
<line x1="396.93" y1="745.7" x2="396.93" y2="748.3" stroke="#222" stroke-width="1.2"/>
<line x1="379.25" y1="745.7" x2="379.25" y2="748.3" stroke="#222" stroke-width="1.2"/>
<line x1="361.57" y1="745.7" x2="361.57" y2="748.3" stroke="#222" stroke-width="1.2"/>
<line x1="609.03" y1="1028.1" x2="609.03" y2="1030.7" stroke="#222" stroke-width="1.2"/>
<line x1="591.35" y1="1026.4" x2="591.35" y2="1035.2" stroke="#222" stroke-width="1.3"/>
<line x1="573.68" y1="1028.1" x2="573.68" y2="1030.7" stroke="#222" stroke-width="1.2"/>
<line x1="556" y1="1028.1" x2="556" y2="1030.7" stroke="#222" stroke-width="1.2"/>
<line x1="538.33" y1="1028.1" x2="538.33" y2="1030.7" stroke="#222" stroke-width="1.2"/>
<line x1="520.65" y1="1028.1" x2="520.65" y2="1030.7" stroke="#222" stroke-width="1.2"/>
<line x1="502.98" y1="1026.4" x2="502.98" y2="1035.2" stroke="#222" stroke-width="1.3"/>
<line x1="485.3" y1="1028.1" x2="485.3" y2="1030.7" stroke="#222" stroke-width="1.2"/>
<line x1="467.62" y1="1028.1" x2="467.62" y2="1030.7" stroke="#222" stroke-width="1.2"/>
<line x1="449.95" y1="1028.1" x2="449.95" y2="1030.7" stroke="#222" stroke-width="1.2"/>
<line x1="432.27" y1="1028.1" x2="432.27" y2="1030.7" stroke="#222" stroke-width="1.2"/>
<line x1="414.6" y1="1026.4" x2="414.6" y2="1035.2" stroke="#222" stroke-width="1.3"/>
<line x1="396.93" y1="1028.1" x2="396.93" y2="1030.7" stroke="#222" stroke-width="1.2"/>
<line x1="379.25" y1="1028.1" x2="379.25" y2="1030.7" stroke="#222" stroke-width="1.2"/>
<line x1="361.57" y1="1028.1" x2="361.57" y2="1030.7" stroke="#222" stroke-width="1.2"/>
<text x="414.6" y="1059.3" font-size="26" text-anchor="middle" class="r">170</text>
<text x="502.98" y="1059.3" font-size="26" text-anchor="middle" class="r">165</text>
<text x="591.35" y="1059.3" font-size="26" text-anchor="middle" class="r">160</text>
<polyline points="61,1030.7 61,182.8 626.7,182.8 626.7,1030.7" fill="none" stroke="#555" stroke-width="1.5"/>
<line x1="343.9" y1="182.8" x2="343.9" y2="1030.7" stroke="#111" stroke-width="1.6"/>
<line x1="61" y1="465.4" x2="626.7" y2="465.4" stroke="#111" stroke-width="1.6"/>
<line x1="61" y1="748.3" x2="626.7" y2="748.3" stroke="#111" stroke-width="1.6"/>
<line x1="60.25" y1="1030.7" x2="627.45" y2="1030.7" stroke="#1a1a1a" stroke-width="1.5"/>
<line x1="964.44" y1="462.3" x2="964.44" y2="464.9" stroke="#222" stroke-width="1.2"/>
<line x1="946.79" y1="462.3" x2="946.79" y2="464.9" stroke="#222" stroke-width="1.2"/>
<line x1="929.13" y1="462.3" x2="929.13" y2="464.9" stroke="#222" stroke-width="1.2"/>
<line x1="911.48" y1="460.6" x2="911.48" y2="469.4" stroke="#222" stroke-width="1.3"/>
<line x1="893.82" y1="462.3" x2="893.82" y2="464.9" stroke="#222" stroke-width="1.2"/>
<line x1="876.16" y1="462.3" x2="876.16" y2="464.9" stroke="#222" stroke-width="1.2"/>
<line x1="858.51" y1="462.3" x2="858.51" y2="464.9" stroke="#222" stroke-width="1.2"/>
<line x1="840.85" y1="462.3" x2="840.85" y2="464.9" stroke="#222" stroke-width="1.2"/>
<line x1="823.19" y1="460.6" x2="823.19" y2="469.4" stroke="#222" stroke-width="1.3"/>
<line x1="805.54" y1="462.3" x2="805.54" y2="464.9" stroke="#222" stroke-width="1.2"/>
<line x1="787.88" y1="462.3" x2="787.88" y2="464.9" stroke="#222" stroke-width="1.2"/>
<line x1="770.23" y1="462.3" x2="770.23" y2="464.9" stroke="#222" stroke-width="1.2"/>
<line x1="752.57" y1="462.3" x2="752.57" y2="464.9" stroke="#222" stroke-width="1.2"/>
<line x1="734.91" y1="460.6" x2="734.91" y2="469.4" stroke="#222" stroke-width="1.3"/>
<line x1="717.26" y1="462.3" x2="717.26" y2="464.9" stroke="#222" stroke-width="1.2"/>
<line x1="964.44" y1="744.3" x2="964.44" y2="746.9" stroke="#222" stroke-width="1.2"/>
<line x1="946.79" y1="744.3" x2="946.79" y2="746.9" stroke="#222" stroke-width="1.2"/>
<line x1="929.13" y1="744.3" x2="929.13" y2="746.9" stroke="#222" stroke-width="1.2"/>
<line x1="911.48" y1="742.6" x2="911.48" y2="751.4" stroke="#222" stroke-width="1.3"/>
<line x1="893.82" y1="744.3" x2="893.82" y2="746.9" stroke="#222" stroke-width="1.2"/>
<line x1="876.16" y1="744.3" x2="876.16" y2="746.9" stroke="#222" stroke-width="1.2"/>
<line x1="858.51" y1="744.3" x2="858.51" y2="746.9" stroke="#222" stroke-width="1.2"/>
<line x1="840.85" y1="744.3" x2="840.85" y2="746.9" stroke="#222" stroke-width="1.2"/>
<line x1="823.19" y1="742.6" x2="823.19" y2="751.4" stroke="#222" stroke-width="1.3"/>
<line x1="805.54" y1="744.3" x2="805.54" y2="746.9" stroke="#222" stroke-width="1.2"/>
<line x1="787.88" y1="744.3" x2="787.88" y2="746.9" stroke="#222" stroke-width="1.2"/>
<line x1="770.23" y1="744.3" x2="770.23" y2="746.9" stroke="#222" stroke-width="1.2"/>
<line x1="752.57" y1="744.3" x2="752.57" y2="746.9" stroke="#222" stroke-width="1.2"/>
<line x1="734.91" y1="742.6" x2="734.91" y2="751.4" stroke="#222" stroke-width="1.3"/>
<line x1="717.26" y1="744.3" x2="717.26" y2="746.9" stroke="#222" stroke-width="1.2"/>
<line x1="964.44" y1="1028.7" x2="964.44" y2="1031.3" stroke="#222" stroke-width="1.2"/>
<line x1="946.79" y1="1028.7" x2="946.79" y2="1031.3" stroke="#222" stroke-width="1.2"/>
<line x1="929.13" y1="1028.7" x2="929.13" y2="1031.3" stroke="#222" stroke-width="1.2"/>
<line x1="911.48" y1="1027" x2="911.48" y2="1035.8" stroke="#222" stroke-width="1.3"/>
<line x1="893.82" y1="1028.7" x2="893.82" y2="1031.3" stroke="#222" stroke-width="1.2"/>
<line x1="876.16" y1="1028.7" x2="876.16" y2="1031.3" stroke="#222" stroke-width="1.2"/>
<line x1="858.51" y1="1028.7" x2="858.51" y2="1031.3" stroke="#222" stroke-width="1.2"/>
<line x1="840.85" y1="1028.7" x2="840.85" y2="1031.3" stroke="#222" stroke-width="1.2"/>
<line x1="823.19" y1="1027" x2="823.19" y2="1035.8" stroke="#222" stroke-width="1.3"/>
<line x1="805.54" y1="1028.7" x2="805.54" y2="1031.3" stroke="#222" stroke-width="1.2"/>
<line x1="787.88" y1="1028.7" x2="787.88" y2="1031.3" stroke="#222" stroke-width="1.2"/>
<line x1="770.23" y1="1028.7" x2="770.23" y2="1031.3" stroke="#222" stroke-width="1.2"/>
<line x1="752.57" y1="1028.7" x2="752.57" y2="1031.3" stroke="#222" stroke-width="1.2"/>
<line x1="734.91" y1="1027" x2="734.91" y2="1035.8" stroke="#222" stroke-width="1.3"/>
<line x1="717.26" y1="1028.7" x2="717.26" y2="1031.3" stroke="#222" stroke-width="1.2"/>
<text x="734.91" y="1059.3" font-size="26" text-anchor="middle" class="r">540</text>
<text x="823.19" y="1059.3" font-size="26" text-anchor="middle" class="r">535</text>
<text x="911.48" y="1059.3" font-size="26" text-anchor="middle" class="r">530</text>
<line x1="1246.38" y1="462.3" x2="1246.38" y2="464.9" stroke="#222" stroke-width="1.2"/>
<line x1="1228.76" y1="460.6" x2="1228.76" y2="469.4" stroke="#222" stroke-width="1.3"/>
<line x1="1211.14" y1="462.3" x2="1211.14" y2="464.9" stroke="#222" stroke-width="1.2"/>
<line x1="1193.53" y1="462.3" x2="1193.53" y2="464.9" stroke="#222" stroke-width="1.2"/>
<line x1="1175.91" y1="462.3" x2="1175.91" y2="464.9" stroke="#222" stroke-width="1.2"/>
<line x1="1158.29" y1="462.3" x2="1158.29" y2="464.9" stroke="#222" stroke-width="1.2"/>
<line x1="1140.67" y1="460.6" x2="1140.67" y2="469.4" stroke="#222" stroke-width="1.3"/>
<line x1="1123.05" y1="462.3" x2="1123.05" y2="464.9" stroke="#222" stroke-width="1.2"/>
<line x1="1105.43" y1="462.3" x2="1105.43" y2="464.9" stroke="#222" stroke-width="1.2"/>
<line x1="1087.81" y1="462.3" x2="1087.81" y2="464.9" stroke="#222" stroke-width="1.2"/>
<line x1="1070.19" y1="462.3" x2="1070.19" y2="464.9" stroke="#222" stroke-width="1.2"/>
<line x1="1052.58" y1="460.6" x2="1052.58" y2="469.4" stroke="#222" stroke-width="1.3"/>
<line x1="1034.96" y1="462.3" x2="1034.96" y2="464.9" stroke="#222" stroke-width="1.2"/>
<line x1="1017.34" y1="462.3" x2="1017.34" y2="464.9" stroke="#222" stroke-width="1.2"/>
<line x1="999.72" y1="462.3" x2="999.72" y2="464.9" stroke="#222" stroke-width="1.2"/>
<line x1="1246.38" y1="744.3" x2="1246.38" y2="746.9" stroke="#222" stroke-width="1.2"/>
<line x1="1228.76" y1="742.6" x2="1228.76" y2="751.4" stroke="#222" stroke-width="1.3"/>
<line x1="1211.14" y1="744.3" x2="1211.14" y2="746.9" stroke="#222" stroke-width="1.2"/>
<line x1="1193.53" y1="744.3" x2="1193.53" y2="746.9" stroke="#222" stroke-width="1.2"/>
<line x1="1175.91" y1="744.3" x2="1175.91" y2="746.9" stroke="#222" stroke-width="1.2"/>
<line x1="1158.29" y1="744.3" x2="1158.29" y2="746.9" stroke="#222" stroke-width="1.2"/>
<line x1="1140.67" y1="742.6" x2="1140.67" y2="751.4" stroke="#222" stroke-width="1.3"/>
<line x1="1123.05" y1="744.3" x2="1123.05" y2="746.9" stroke="#222" stroke-width="1.2"/>
<line x1="1105.43" y1="744.3" x2="1105.43" y2="746.9" stroke="#222" stroke-width="1.2"/>
<line x1="1087.81" y1="744.3" x2="1087.81" y2="746.9" stroke="#222" stroke-width="1.2"/>
<line x1="1070.19" y1="744.3" x2="1070.19" y2="746.9" stroke="#222" stroke-width="1.2"/>
<line x1="1052.58" y1="742.6" x2="1052.58" y2="751.4" stroke="#222" stroke-width="1.3"/>
<line x1="1034.96" y1="744.3" x2="1034.96" y2="746.9" stroke="#222" stroke-width="1.2"/>
<line x1="1017.34" y1="744.3" x2="1017.34" y2="746.9" stroke="#222" stroke-width="1.2"/>
<line x1="999.72" y1="744.3" x2="999.72" y2="746.9" stroke="#222" stroke-width="1.2"/>
<line x1="1246.38" y1="1028.7" x2="1246.38" y2="1031.3" stroke="#222" stroke-width="1.2"/>
<line x1="1228.76" y1="1027" x2="1228.76" y2="1035.8" stroke="#222" stroke-width="1.3"/>
<line x1="1211.14" y1="1028.7" x2="1211.14" y2="1031.3" stroke="#222" stroke-width="1.2"/>
<line x1="1193.53" y1="1028.7" x2="1193.53" y2="1031.3" stroke="#222" stroke-width="1.2"/>
<line x1="1175.91" y1="1028.7" x2="1175.91" y2="1031.3" stroke="#222" stroke-width="1.2"/>
<line x1="1158.29" y1="1028.7" x2="1158.29" y2="1031.3" stroke="#222" stroke-width="1.2"/>
<line x1="1140.67" y1="1027" x2="1140.67" y2="1035.8" stroke="#222" stroke-width="1.3"/>
<line x1="1123.05" y1="1028.7" x2="1123.05" y2="1031.3" stroke="#222" stroke-width="1.2"/>
<line x1="1105.43" y1="1028.7" x2="1105.43" y2="1031.3" stroke="#222" stroke-width="1.2"/>
<line x1="1087.81" y1="1028.7" x2="1087.81" y2="1031.3" stroke="#222" stroke-width="1.2"/>
<line x1="1070.19" y1="1028.7" x2="1070.19" y2="1031.3" stroke="#222" stroke-width="1.2"/>
<line x1="1052.58" y1="1027" x2="1052.58" y2="1035.8" stroke="#222" stroke-width="1.3"/>
<line x1="1034.96" y1="1028.7" x2="1034.96" y2="1031.3" stroke="#222" stroke-width="1.2"/>
<line x1="1017.34" y1="1028.7" x2="1017.34" y2="1031.3" stroke="#222" stroke-width="1.2"/>
<line x1="999.72" y1="1028.7" x2="999.72" y2="1031.3" stroke="#222" stroke-width="1.2"/>
<text x="1052.58" y="1059.3" font-size="26" text-anchor="middle" class="r">170</text>
<text x="1140.67" y="1059.3" font-size="26" text-anchor="middle" class="r">165</text>
<text x="1228.76" y="1059.3" font-size="26" text-anchor="middle" class="r">160</text>
<polyline points="699.6,1031.3 699.6,182.6 1264,182.6 1264,1031.3" fill="none" stroke="#555" stroke-width="1.5"/>
<line x1="982.1" y1="182.6" x2="982.1" y2="1031.3" stroke="#111" stroke-width="1.6"/>
<line x1="699.6" y1="464.9" x2="1264" y2="464.9" stroke="#111" stroke-width="1.6"/>
<line x1="699.6" y1="746.9" x2="1264" y2="746.9" stroke="#111" stroke-width="1.6"/>
<line x1="698.85" y1="1031.3" x2="1264.75" y2="1031.3" stroke="#1a1a1a" stroke-width="1.5"/>
<rect x="69.8" y="190.6" width="46.6" height="26.8" fill="#333"/>
<rect x="68.8" y="189.6" width="46.6" height="26.8" fill="#fff" stroke="#555" stroke-width="1.1"/>
<text x="92.1" y="209.7" font-size="19.9" text-anchor="middle" class="r">O 1s</text>
<rect x="353.2" y="189.9" width="45.4" height="26.8" fill="#333"/>
<rect x="352.2" y="188.9" width="45.4" height="26.8" fill="#fff" stroke="#555" stroke-width="1.1"/>
<text x="374.9" y="209" font-size="19.4" text-anchor="middle" class="r">S 2p</text>
<rect x="68.6" y="476.4" width="46.6" height="26.8" fill="#333"/>
<rect x="67.6" y="475.4" width="46.6" height="26.8" fill="#fff" stroke="#555" stroke-width="1.1"/>
<text x="90.9" y="495.5" font-size="19.9" text-anchor="middle" class="r">O 1s</text>
<rect x="352" y="475.3" width="45.4" height="26.8" fill="#333"/>
<rect x="351" y="474.3" width="45.4" height="26.8" fill="#fff" stroke="#555" stroke-width="1.1"/>
<text x="373.7" y="494.4" font-size="19.4" text-anchor="middle" class="r">S 2p</text>
<rect x="68.8" y="757.3" width="46.6" height="26.8" fill="#333"/>
<rect x="67.8" y="756.3" width="46.6" height="26.8" fill="#fff" stroke="#555" stroke-width="1.1"/>
<text x="91.1" y="776.4" font-size="19.9" text-anchor="middle" class="r">O 1s</text>
<rect x="351.8" y="756.1" width="45.4" height="26.8" fill="#333"/>
<rect x="350.8" y="755.1" width="45.4" height="26.8" fill="#fff" stroke="#555" stroke-width="1.1"/>
<text x="373.5" y="775.2" font-size="19.4" text-anchor="middle" class="r">S 2p</text>
<rect x="706.2" y="188.3" width="46.6" height="26.8" fill="#333"/>
<rect x="705.2" y="187.3" width="46.6" height="26.8" fill="#fff" stroke="#555" stroke-width="1.1"/>
<text x="728.5" y="207.4" font-size="19.9" text-anchor="middle" class="r">O 1s</text>
<rect x="989.8" y="191" width="45.4" height="26.8" fill="#333"/>
<rect x="988.8" y="190" width="45.4" height="26.8" fill="#fff" stroke="#555" stroke-width="1.1"/>
<text x="1011.5" y="210.1" font-size="19.4" text-anchor="middle" class="r">S 2p</text>
<rect x="706.6" y="472.9" width="46.6" height="26.8" fill="#333"/>
<rect x="705.6" y="471.9" width="46.6" height="26.8" fill="#fff" stroke="#555" stroke-width="1.1"/>
<text x="728.9" y="492" font-size="19.9" text-anchor="middle" class="r">O 1s</text>
<rect x="988.7" y="472.4" width="45.4" height="26.8" fill="#333"/>
<rect x="987.7" y="471.4" width="45.4" height="26.8" fill="#fff" stroke="#555" stroke-width="1.1"/>
<text x="1010.4" y="491.5" font-size="19.4" text-anchor="middle" class="r">S 2p</text>
<rect x="706.6" y="756.1" width="46.6" height="26.8" fill="#333"/>
<rect x="705.6" y="755.1" width="46.6" height="26.8" fill="#fff" stroke="#555" stroke-width="1.1"/>
<text x="728.9" y="775.2" font-size="19.9" text-anchor="middle" class="r">O 1s</text>
<rect x="987.6" y="753" width="45.4" height="26.8" fill="#333"/>
<rect x="986.6" y="752" width="45.4" height="26.8" fill="#fff" stroke="#555" stroke-width="1.1"/>
<text x="1009.3" y="772.1" font-size="19.4" text-anchor="middle" class="r">S 2p</text>
<rect x="199.2" y="180.2" width="28.4" height="849.4" fill="rgb(174, 153, 7)" fill-opacity="0.42"/>
<rect x="227.6" y="180.2" width="35.6" height="849.4" fill="rgb(29, 136, 198)" fill-opacity="0.42"/>
<rect x="263.2" y="180.2" width="16.8" height="849.4" fill="rgb(138, 138, 138)" fill-opacity="0.42"/>
<rect x="395.1" y="180" width="28.7" height="849.6" fill="rgb(174, 153, 7)" fill-opacity="0.42"/>
<rect x="423.8" y="180" width="35.5" height="849.6" fill="rgb(29, 136, 198)" fill-opacity="0.42"/>
<rect x="511.8" y="182.2" width="28.2" height="847.4" fill="rgb(174, 153, 7)" fill-opacity="0.42"/>
<rect x="540" y="182.2" width="34.9" height="847.4" fill="rgb(29, 136, 198)" fill-opacity="0.42"/>
<rect x="841.9" y="182" width="28.2" height="847.6" fill="rgb(174, 153, 7)" fill-opacity="0.42"/>
<rect x="870.1" y="182" width="35.8" height="847.6" fill="rgb(29, 136, 198)" fill-opacity="0.42"/>
<rect x="905.9" y="182" width="16.8" height="847.6" fill="rgb(138, 138, 138)" fill-opacity="0.42"/>
<rect x="1033.9" y="182.7" width="27.8" height="846.9" fill="rgb(174, 153, 7)" fill-opacity="0.42"/>
<rect x="1061.7" y="182.7" width="35.5" height="846.9" fill="rgb(29, 136, 198)" fill-opacity="0.42"/>
<rect x="1149.9" y="185.1" width="28" height="844.5" fill="rgb(174, 153, 7)" fill-opacity="0.42"/>
<rect x="1177.9" y="185.1" width="35.5" height="844.5" fill="rgb(29, 136, 198)" fill-opacity="0.42"/>
<polygon points="236.4,731.4 248.5,722.5 248.5,728.4 259.3,728.4 259.3,734.4 248.5,734.4 248.5,740.3" fill="#cc1d0c"/>
<polygon points="233,1014.8 245.1,1005.9 245.1,1011.8 255.9,1011.8 255.9,1017.8 245.1,1017.8 245.1,1023.7" fill="#cc1d0c"/>
<polygon points="408.9,1012.7 421,1003.8 421,1009.7 431.8,1009.7 431.8,1015.7 421,1015.7 421,1021.6" fill="#cc1d0c"/>
<polygon points="876.9,1014 889,1005.1 889,1011 899.8,1011 899.8,1017 889,1017 889,1022.9" fill="#cc1d0c"/>
<text x="0" y="0" font-size="42.7" class="r" transform="translate(32.1,842.3) rotate(-90)">Intensity / arbitrary units</text>
<text x="486" y="1110.1" font-size="42.7" class="r">Binding energy / eV</text>
<text x="0" y="0" font-size="42.7" class="r" transform="translate(1287.2,220.2) rotate(90)">as prepared</text>
<text x="0" y="0" font-size="42.7" class="r" transform="translate(1287.2,545.8) rotate(90)">7 days</text>
<text x="0" y="0" font-size="42.7" class="r" transform="translate(1287.2,810.6) rotate(90)">28 days</text>
<text transform="translate(10.93,218.36) scale(0.78,1)" font-size="35.23" class="r" stroke="#000" stroke-width="0.7">a</text>
<text transform="translate(31.74,217.78) scale(0.71,1)" font-size="37.78" class="r" stroke="#000" stroke-width="0.7">)</text>
<text transform="translate(652.06,218.34) scale(0.97,1)" font-size="37.31" class="r" stroke="#000" stroke-width="0.7">b</text>
<text transform="translate(675.04,217.52) scale(0.73,1)" font-size="37.57" class="r" stroke="#000" stroke-width="0.7">)</text>
<line x1="232.49" y1="80.23" x2="256.61" y2="89.17" stroke="#000" stroke-width="3.6" stroke-linecap="round"/>
<g transform="translate(221.2,0) rotate(-90)"><text transform="translate(-170.44,0) scale(0.91,1)" font-size="30.4" class="b">H</text><text transform="translate(-150.62,7) scale(1.06,1)" font-size="19.6" class="b">2</text><text transform="translate(-139.7,0) scale(0.89,1)" font-size="30.4" class="b">O</text></g>
<g transform="translate(254.3,0) rotate(-90)"><text transform="translate(-172.01,0) scale(1.09,1)" font-size="30.4" class="b">M</text><text transform="translate(-143.55,0) scale(0.97,1)" font-size="30.4" class="b">-</text><text transform="translate(-134.1,0) scale(0.89,1)" font-size="30.4" class="b">O</text><text transform="translate(-111.15,0) scale(0.91,1)" font-size="30.4" class="b">H</text><text transform="translate(-77.16,0) scale(0.75,1)" font-size="30.4" class="b">S</text><text transform="translate(-61.96,0) scale(0.93,1)" font-size="30.4" class="b">O</text><text transform="translate(-39.81,7) scale(0.83,1)" font-size="19.6" class="b">x</text></g>
<g transform="translate(283,0) rotate(-90)"><text transform="translate(-171.41,0) scale(1.09,1)" font-size="30.4" class="b">M</text><text transform="translate(-143.65,0) scale(1.05,1)" font-size="30.4" class="b">-</text><text transform="translate(-134.19,0) scale(1,1)" font-size="30.4" class="b">o</text><text transform="translate(-116.37,0) scale(0.84,1)" font-size="30.4" class="b">x</text></g>
<line x1="412.71" y1="85.05" x2="429.29" y2="91.75" stroke="#000" stroke-width="2.4" stroke-linecap="round"/>
<line x1="449.61" y1="85.05" x2="466.19" y2="91.75" stroke="#000" stroke-width="2.4" stroke-linecap="round"/>
<line x1="527.71" y1="85.86" x2="544.29" y2="92.74" stroke="#000" stroke-width="2.4" stroke-linecap="round"/>
<line x1="562.01" y1="85.86" x2="578.59" y2="92.74" stroke="#000" stroke-width="2.4" stroke-linecap="round"/>
<g transform="translate(420.3,0) rotate(-90)"><text transform="translate(-159.95,0) scale(0.74,1)" font-size="30.4" class="b">S</text><text transform="translate(-137.08,0) scale(0.93,1)" font-size="30.4" class="b">2</text><text transform="translate(-120.74,0) scale(0.92,1)" font-size="30.4" class="b">p</text><text transform="translate(-103.65,7) scale(0.93,1)" font-size="19.6" class="b">1</text><text transform="translate(-82.74,7) scale(0.94,1)" font-size="19.6" class="b">2</text><text transform="translate(-64.35,0) scale(0.63,1)" font-size="30.4" class="b">S</text><text transform="translate(-49.3,0) scale(0.89,1)" font-size="30.4" class="b">O</text><text transform="translate(-27.6,7) scale(0.78,1)" font-size="19.6" class="b">x</text><text transform="translate(-17.66,-10.3) scale(0.97,1)" font-size="19.6" class="b">2</text><text transform="translate(-6.95,-10.3) scale(0.98,1)" font-size="19.6" class="b">-</text></g>
<g transform="translate(457.2,0) rotate(-90)"><text transform="translate(-159.95,0) scale(0.74,1)" font-size="30.4" class="b">S</text><text transform="translate(-137.08,0) scale(0.93,1)" font-size="30.4" class="b">2</text><text transform="translate(-120.74,0) scale(0.92,1)" font-size="30.4" class="b">p</text><text transform="translate(-102.89,7) scale(0.87,1)" font-size="19.6" class="b">3</text><text transform="translate(-82.74,7) scale(0.94,1)" font-size="19.6" class="b">2</text><text transform="translate(-64.35,0) scale(0.63,1)" font-size="30.4" class="b">S</text><text transform="translate(-49.3,0) scale(0.89,1)" font-size="30.4" class="b">O</text><text transform="translate(-27.6,7) scale(0.78,1)" font-size="19.6" class="b">x</text><text transform="translate(-17.66,-10.3) scale(0.97,1)" font-size="19.6" class="b">2</text><text transform="translate(-6.95,-10.3) scale(0.98,1)" font-size="19.6" class="b">-</text></g>
<g transform="translate(535.2,0) rotate(-90)"><text transform="translate(-161.23,0) scale(0.72,1)" font-size="30.4" class="b">S</text><text transform="translate(-137.99,0) scale(0.94,1)" font-size="30.4" class="b">2</text><text transform="translate(-121.41,0) scale(0.9,1)" font-size="30.4" class="b">p</text><text transform="translate(-104.18,7) scale(0.95,1)" font-size="19.6" class="b">1</text><text transform="translate(-83.67,7) scale(0.99,1)" font-size="19.6" class="b">2</text><text transform="translate(-65.6,0) scale(0.69,1)" font-size="30.4" class="b">S</text><text transform="translate(-50.72,-9.4) scale(1.06,1)" font-size="19.6" class="b">2</text><text transform="translate(-40.05,-9.4) scale(1.11,1)" font-size="19.6" class="b">-</text></g>
<g transform="translate(569.5,0) rotate(-90)"><text transform="translate(-161.23,0) scale(0.72,1)" font-size="30.4" class="b">S</text><text transform="translate(-137.99,0) scale(0.94,1)" font-size="30.4" class="b">2</text><text transform="translate(-121.41,0) scale(0.9,1)" font-size="30.4" class="b">p</text><text transform="translate(-103.4,7) scale(0.89,1)" font-size="19.6" class="b">3</text><text transform="translate(-83.67,7) scale(0.99,1)" font-size="19.6" class="b">2</text><text transform="translate(-65.6,0) scale(0.69,1)" font-size="30.4" class="b">S</text><text transform="translate(-50.72,-9.4) scale(1.06,1)" font-size="19.6" class="b">2</text><text transform="translate(-40.05,-9.4) scale(1.11,1)" font-size="19.6" class="b">-</text></g>
<line x1="872.59" y1="80.23" x2="896.71" y2="89.17" stroke="#000" stroke-width="3.6" stroke-linecap="round"/>
<g transform="translate(861.3,0) rotate(-90)"><text transform="translate(-170.44,0) scale(0.91,1)" font-size="30.4" class="b">H</text><text transform="translate(-150.62,7) scale(1.06,1)" font-size="19.6" class="b">2</text><text transform="translate(-139.7,0) scale(0.89,1)" font-size="30.4" class="b">O</text></g>
<g transform="translate(894.4,0) rotate(-90)"><text transform="translate(-172.01,0) scale(1.09,1)" font-size="30.4" class="b">M</text><text transform="translate(-143.55,0) scale(0.97,1)" font-size="30.4" class="b">-</text><text transform="translate(-134.1,0) scale(0.89,1)" font-size="30.4" class="b">O</text><text transform="translate(-111.15,0) scale(0.91,1)" font-size="30.4" class="b">H</text><text transform="translate(-77.16,0) scale(0.75,1)" font-size="30.4" class="b">S</text><text transform="translate(-61.96,0) scale(0.93,1)" font-size="30.4" class="b">O</text><text transform="translate(-39.81,7) scale(0.83,1)" font-size="19.6" class="b">x</text></g>
<g transform="translate(923.1,0) rotate(-90)"><text transform="translate(-171.41,0) scale(1.09,1)" font-size="30.4" class="b">M</text><text transform="translate(-143.65,0) scale(1.05,1)" font-size="30.4" class="b">-</text><text transform="translate(-134.19,0) scale(1,1)" font-size="30.4" class="b">o</text><text transform="translate(-116.37,0) scale(0.84,1)" font-size="30.4" class="b">x</text></g>
<line x1="1051.01" y1="85.05" x2="1067.59" y2="91.75" stroke="#000" stroke-width="2.4" stroke-linecap="round"/>
<line x1="1087.91" y1="85.05" x2="1104.49" y2="91.75" stroke="#000" stroke-width="2.4" stroke-linecap="round"/>
<line x1="1166.01" y1="85.86" x2="1182.59" y2="92.74" stroke="#000" stroke-width="2.4" stroke-linecap="round"/>
<line x1="1200.31" y1="85.86" x2="1216.89" y2="92.74" stroke="#000" stroke-width="2.4" stroke-linecap="round"/>
<g transform="translate(1058.6,0) rotate(-90)"><text transform="translate(-159.95,0) scale(0.74,1)" font-size="30.4" class="b">S</text><text transform="translate(-137.08,0) scale(0.93,1)" font-size="30.4" class="b">2</text><text transform="translate(-120.74,0) scale(0.92,1)" font-size="30.4" class="b">p</text><text transform="translate(-103.65,7) scale(0.93,1)" font-size="19.6" class="b">1</text><text transform="translate(-82.74,7) scale(0.94,1)" font-size="19.6" class="b">2</text><text transform="translate(-64.35,0) scale(0.63,1)" font-size="30.4" class="b">S</text><text transform="translate(-49.3,0) scale(0.89,1)" font-size="30.4" class="b">O</text><text transform="translate(-27.6,7) scale(0.78,1)" font-size="19.6" class="b">x</text><text transform="translate(-17.66,-10.3) scale(0.97,1)" font-size="19.6" class="b">2</text><text transform="translate(-6.95,-10.3) scale(0.98,1)" font-size="19.6" class="b">-</text></g>
<g transform="translate(1095.5,0) rotate(-90)"><text transform="translate(-159.95,0) scale(0.74,1)" font-size="30.4" class="b">S</text><text transform="translate(-137.08,0) scale(0.93,1)" font-size="30.4" class="b">2</text><text transform="translate(-120.74,0) scale(0.92,1)" font-size="30.4" class="b">p</text><text transform="translate(-102.89,7) scale(0.87,1)" font-size="19.6" class="b">3</text><text transform="translate(-82.74,7) scale(0.94,1)" font-size="19.6" class="b">2</text><text transform="translate(-64.35,0) scale(0.63,1)" font-size="30.4" class="b">S</text><text transform="translate(-49.3,0) scale(0.89,1)" font-size="30.4" class="b">O</text><text transform="translate(-27.6,7) scale(0.78,1)" font-size="19.6" class="b">x</text><text transform="translate(-17.66,-10.3) scale(0.97,1)" font-size="19.6" class="b">2</text><text transform="translate(-6.95,-10.3) scale(0.98,1)" font-size="19.6" class="b">-</text></g>
<g transform="translate(1173.5,0) rotate(-90)"><text transform="translate(-161.23,0) scale(0.72,1)" font-size="30.4" class="b">S</text><text transform="translate(-137.99,0) scale(0.94,1)" font-size="30.4" class="b">2</text><text transform="translate(-121.41,0) scale(0.9,1)" font-size="30.4" class="b">p</text><text transform="translate(-104.18,7) scale(0.95,1)" font-size="19.6" class="b">1</text><text transform="translate(-83.67,7) scale(0.99,1)" font-size="19.6" class="b">2</text><text transform="translate(-65.6,0) scale(0.69,1)" font-size="30.4" class="b">S</text><text transform="translate(-50.72,-9.4) scale(1.06,1)" font-size="19.6" class="b">2</text><text transform="translate(-40.05,-9.4) scale(1.11,1)" font-size="19.6" class="b">-</text></g>
<g transform="translate(1207.8,0) rotate(-90)"><text transform="translate(-161.23,0) scale(0.72,1)" font-size="30.4" class="b">S</text><text transform="translate(-137.99,0) scale(0.94,1)" font-size="30.4" class="b">2</text><text transform="translate(-121.41,0) scale(0.9,1)" font-size="30.4" class="b">p</text><text transform="translate(-103.4,7) scale(0.89,1)" font-size="19.6" class="b">3</text><text transform="translate(-83.67,7) scale(0.99,1)" font-size="19.6" class="b">2</text><text transform="translate(-65.6,0) scale(0.69,1)" font-size="30.4" class="b">S</text><text transform="translate(-50.72,-9.4) scale(1.06,1)" font-size="19.6" class="b">2</text><text transform="translate(-40.05,-9.4) scale(1.11,1)" font-size="19.6" class="b">-</text></g>
</svg></body></html>
